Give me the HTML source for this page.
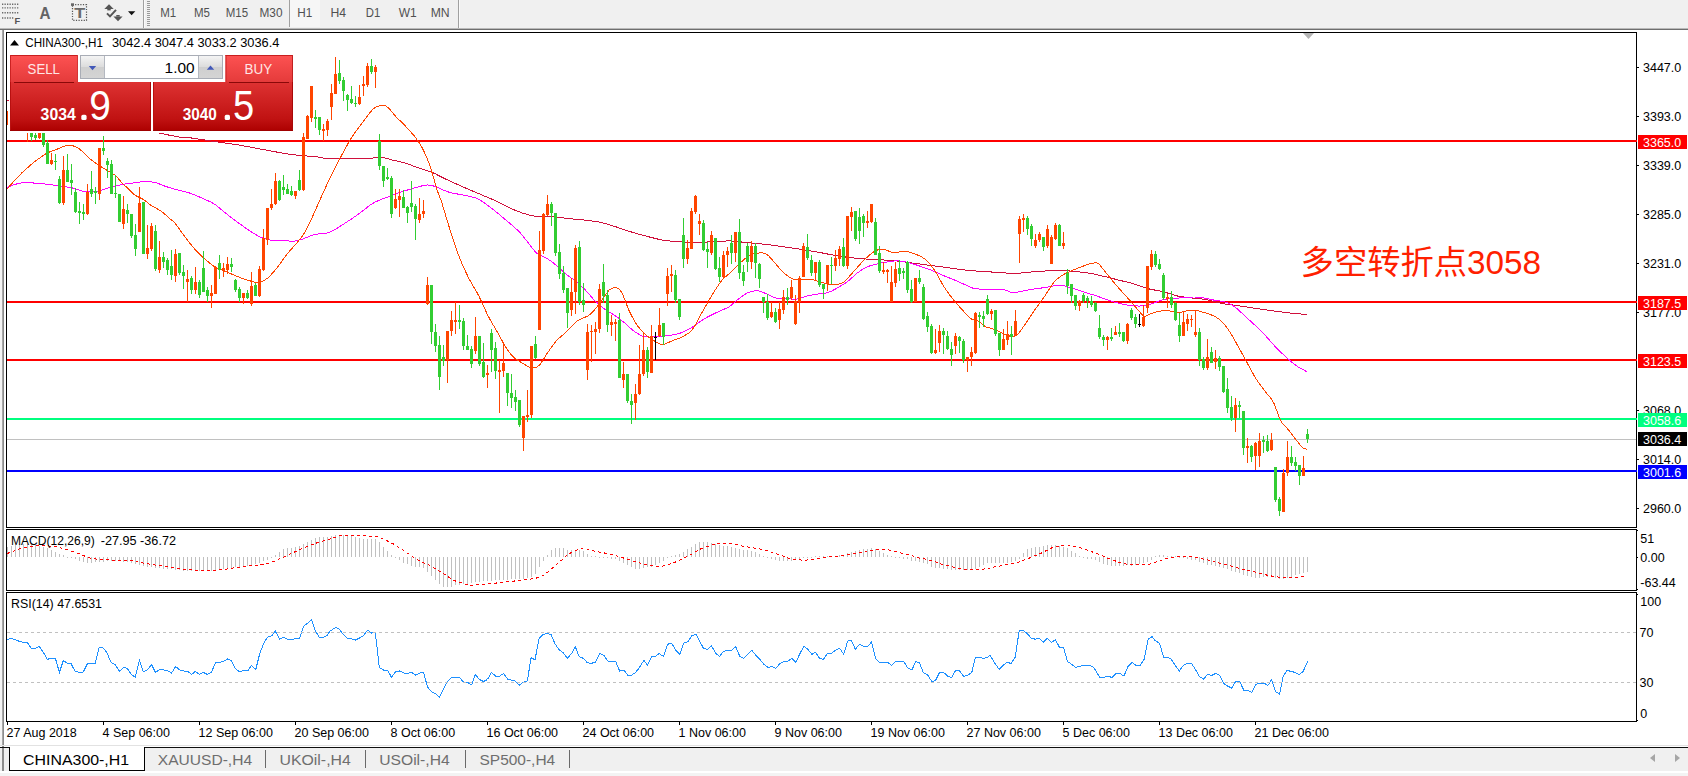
<!DOCTYPE html>
<html lang="zh"><head><meta charset="utf-8"><title>CHINA300-,H1</title>
<style>
html,body{margin:0;padding:0;background:#fff;overflow:hidden}
body{width:1688px;height:776px;font-family:"Liberation Sans", sans-serif}
svg{display:block;font-family:"Liberation Sans", sans-serif}
text{white-space:pre}
</style></head><body>
<svg width="1688" height="776" viewBox="0 0 1688 776">
<rect x="0" y="0" width="1688" height="776" fill="#ffffff" />
<rect x="0" y="0" width="1688" height="28" fill="#f0f0f0" />
<rect x="0" y="28" width="1688" height="1" fill="#b9b9b9" />
<rect x="0" y="29" width="1688" height="1" fill="#6e6e6e" />
<rect x="0" y="30" width="2" height="716" fill="#f4f4f4" />
<rect x="2" y="30" width="2" height="716" fill="#8c8c8c" />
<rect x="2" y="30" width="1" height="716" fill="#a8a8a8" />
<rect x="6" y="32" width="1631" height="1" fill="#000" />
<rect x="6" y="32" width="1" height="496" fill="#000" />
<rect x="6" y="527" width="1631" height="1" fill="#000" />
<rect x="6" y="529" width="1631" height="1" fill="#000" />
<rect x="6" y="529" width="1" height="62" fill="#000" />
<rect x="6" y="590" width="1631" height="1" fill="#000" />
<rect x="6" y="592" width="1631" height="1" fill="#000" />
<rect x="6" y="592" width="1" height="130" fill="#000" />
<rect x="6" y="721" width="1631" height="1" fill="#000" />
<rect x="1636" y="32" width="1" height="496" fill="#000" />
<rect x="1636" y="529" width="1" height="62" fill="#000" />
<rect x="1636" y="592" width="1" height="130" fill="#000" />
<rect x="1637" y="67" width="2" height="1" fill="#000" />
<text x="1643" y="72" font-size="12.5" fill="#000" >3447.0</text>
<rect x="1637" y="116" width="2" height="1" fill="#000" />
<text x="1643" y="121" font-size="12.5" fill="#000" >3393.0</text>
<rect x="1637" y="165" width="2" height="1" fill="#000" />
<text x="1643" y="170" font-size="12.5" fill="#000" >3339.0</text>
<rect x="1637" y="214" width="2" height="1" fill="#000" />
<text x="1643" y="219" font-size="12.5" fill="#000" >3285.0</text>
<rect x="1637" y="263" width="2" height="1" fill="#000" />
<text x="1643" y="268" font-size="12.5" fill="#000" >3231.0</text>
<rect x="1637" y="312" width="2" height="1" fill="#000" />
<text x="1643" y="317" font-size="12.5" fill="#000" >3177.0</text>
<rect x="1637" y="410" width="2" height="1" fill="#000" />
<text x="1643" y="415" font-size="12.5" fill="#000" >3068.0</text>
<rect x="1637" y="459" width="2" height="1" fill="#000" />
<text x="1643" y="464" font-size="12.5" fill="#000" >3014.0</text>
<rect x="1637" y="508" width="2" height="1" fill="#000" />
<text x="1643" y="513" font-size="12.5" fill="#000" >2960.0</text>
<rect x="7" y="140" width="1630" height="2" fill="#ff0000" />
<rect x="1638" y="135" width="49" height="14" fill="#ff0000" />
<text x="1643" y="147" font-size="12.5" fill="#fff" >3365.0</text>
<rect x="7" y="301" width="1630" height="2" fill="#ff0000" />
<rect x="1638" y="296" width="49" height="14" fill="#ff0000" />
<text x="1643" y="308" font-size="12.5" fill="#fff" >3187.5</text>
<rect x="7" y="359" width="1630" height="2" fill="#ff0000" />
<rect x="1638" y="354" width="49" height="14" fill="#ff0000" />
<text x="1643" y="366" font-size="12.5" fill="#fff" >3123.5</text>
<rect x="7" y="418" width="1630" height="2" fill="#00ff7f" />
<rect x="1638" y="413" width="49" height="14" fill="#00ff7f" />
<text x="1643" y="425" font-size="12.5" fill="#fff" >3058.6</text>
<rect x="7" y="439" width="1629" height="1" fill="#c0c0c0" />
<rect x="1638" y="432" width="49" height="14" fill="#000" />
<text x="1643" y="444" font-size="12.5" fill="#fff" >3036.4</text>
<rect x="7" y="470" width="1630" height="2" fill="#0000ff" />
<rect x="1638" y="465" width="49" height="14" fill="#0000ff" />
<text x="1643" y="477" font-size="12.5" fill="#fff" >3001.6</text>
<path d="M7.0 100.0 C33.3 105.7 134.6 128.0 165.0 134.3 C195.4 140.6 181.3 136.5 189.5 137.7 C197.7 138.9 205.8 140.2 214.0 141.4 C222.2 142.6 230.3 143.7 238.5 145.0 C246.7 146.3 254.8 148.0 263.0 149.5 C271.1 151.0 280.9 152.9 287.4 153.9 C293.9 154.9 297.1 155.1 302.0 155.6 C306.9 156.1 313.1 156.4 316.8 156.8 C320.5 157.2 319.9 157.9 324.4 158.2 C328.9 158.5 337.5 158.4 344.0 158.5 C350.5 158.6 357.1 158.6 363.6 158.5 C370.1 158.4 378.2 157.4 383.1 157.7 C388.0 158.0 389.3 159.3 393.0 160.2 C396.7 161.1 401.1 161.9 405.2 163.1 C409.3 164.3 412.9 165.9 417.4 167.5 C421.9 169.1 427.2 170.4 432.1 172.4 C437.0 174.4 441.6 177.2 446.5 179.5 C451.4 181.8 455.9 183.8 461.2 186.1 C466.5 188.4 472.7 191.1 478.4 193.5 C484.1 195.9 490.2 198.4 495.5 200.8 C500.8 203.2 505.7 206.2 510.2 208.2 C514.7 210.2 518.3 211.7 522.4 213.0 C526.5 214.3 530.6 215.6 534.7 216.2 C538.8 216.8 542.8 216.5 546.9 216.7 C551.0 216.9 556.2 216.9 559.2 217.2 C562.2 217.4 562.0 217.8 565.0 218.2 C568.0 218.6 573.1 219.0 577.2 219.4 C581.3 219.8 585.4 220.1 589.5 220.6 C593.6 221.1 597.6 221.7 601.7 222.6 C605.8 223.5 609.9 224.9 614.0 226.2 C618.1 227.5 622.1 229.1 626.2 230.4 C630.3 231.7 634.4 232.9 638.5 234.1 C642.6 235.2 646.6 236.3 650.7 237.3 C654.8 238.3 658.9 239.5 663.0 240.2 C667.1 240.9 671.1 241.1 675.2 241.4 C679.3 241.7 681.3 242.1 687.4 242.2 C693.5 242.3 704.8 242.1 711.9 241.9 C719.0 241.7 724.5 240.8 730.0 240.9 C735.5 241.0 739.8 241.9 744.7 242.4 C749.6 242.9 753.7 243.1 759.4 243.7 C765.1 244.3 772.5 245.2 779.0 246.1 C785.5 247.0 792.1 248.0 798.6 249.0 C805.1 250.0 811.6 251.0 818.1 252.2 C824.6 253.3 831.2 254.9 837.7 255.9 C844.2 256.9 850.8 257.8 857.3 258.4 C863.8 259.0 870.3 259.2 876.9 259.6 C883.5 260.0 889.9 260.3 897.0 261.0 C904.1 261.7 911.7 263.0 919.5 264.0 C927.3 265.0 935.8 266.1 944.0 267.2 C952.2 268.3 960.3 269.6 968.5 270.4 C976.7 271.2 985.2 271.6 993.0 272.1 C1000.8 272.6 1008.9 273.4 1015.0 273.4 C1021.1 273.4 1024.4 272.5 1029.7 272.1 C1035.0 271.7 1041.8 271.2 1046.8 270.9 C1051.8 270.6 1055.3 270.2 1060.0 270.3 C1064.7 270.4 1069.8 271.0 1074.7 271.5 C1079.6 272.0 1084.5 272.4 1089.4 273.2 C1094.3 274.0 1099.1 275.2 1104.0 276.4 C1108.9 277.5 1113.9 278.9 1118.8 280.1 C1123.7 281.3 1128.6 282.4 1133.5 283.8 C1138.4 285.2 1143.2 287.4 1148.1 288.7 C1153.0 290.0 1157.9 290.4 1162.8 291.6 C1167.7 292.8 1172.6 294.9 1177.5 296.0 C1182.4 297.1 1187.3 297.4 1192.2 298.0 C1197.1 298.6 1202.0 298.8 1206.9 299.7 C1211.8 300.6 1216.1 302.3 1221.6 303.4 C1227.1 304.4 1231.9 304.8 1240.0 306.0 C1248.1 307.2 1261.7 309.3 1270.0 310.5 C1278.3 311.7 1283.8 312.3 1290.0 313.0 C1296.2 313.7 1304.2 314.2 1307.0 314.5" fill="none" stroke="#d0103c" stroke-width="1" shape-rendering="crispEdges"/>
<path d="M7.3 187.4 C8.5 186.9 11.8 185.3 14.7 184.5 C17.6 183.7 20.8 182.7 24.5 182.5 C28.2 182.3 32.6 183.0 36.7 183.3 C40.8 183.6 44.9 184.0 49.0 184.5 C53.1 185.0 57.1 185.6 61.2 186.2 C65.3 186.8 69.4 187.3 73.5 188.2 C77.6 189.1 81.6 191.3 85.7 191.8 C89.8 192.3 93.9 191.8 98.0 191.1 C102.1 190.4 106.1 188.5 110.2 187.4 C114.3 186.3 118.3 185.3 122.4 184.5 C126.5 183.7 130.6 183.3 134.7 182.8 C138.8 182.3 143.3 181.3 147.0 181.3 C150.7 181.3 153.7 182.2 156.7 183.0 C159.7 183.8 161.6 185.0 165.0 186.2 C168.4 187.3 173.1 188.8 177.2 189.9 C181.3 191.0 185.4 191.7 189.5 193.0 C193.6 194.3 197.6 196.2 201.7 198.0 C205.8 199.8 209.9 201.2 214.0 203.8 C218.1 206.4 222.1 210.4 226.2 213.6 C230.3 216.8 234.4 219.9 238.5 222.9 C242.6 225.9 247.0 229.1 250.7 231.5 C254.4 233.9 257.2 235.7 260.5 237.1 C263.8 238.5 266.6 239.6 270.3 240.1 C274.0 240.6 278.8 239.9 282.5 240.1 C286.2 240.3 289.0 241.5 292.3 241.3 C295.6 241.2 298.4 240.3 302.1 239.2 C305.8 238.1 310.1 235.6 314.6 234.5 C319.1 233.4 324.4 234.2 329.3 232.4 C334.2 230.6 339.1 226.9 344.0 223.8 C348.9 220.7 353.8 217.5 358.7 214.0 C363.6 210.5 368.5 205.8 373.4 203.0 C378.3 200.2 383.1 198.8 388.0 196.9 C392.9 195.0 397.8 193.1 402.7 191.5 C407.6 189.9 413.3 188.2 417.4 187.1 C421.5 186.0 424.3 185.1 427.2 185.0 C430.1 184.9 431.0 185.1 434.6 186.3 C438.2 187.5 444.1 190.7 449.0 192.2 C453.9 193.7 458.8 194.0 463.7 195.2 C468.6 196.3 473.5 196.7 478.4 199.1 C483.3 201.5 488.1 205.7 493.0 209.4 C497.9 213.2 503.2 217.7 507.7 221.6 C512.2 225.5 516.3 228.7 520.0 232.6 C523.7 236.5 526.9 241.4 529.8 244.9 C532.6 248.4 534.2 251.2 537.1 253.5 C540.0 255.8 543.6 256.4 546.9 258.4 C550.2 260.4 553.7 263.2 556.7 265.7 C559.7 268.2 562.0 270.8 565.0 273.3 C568.0 275.8 571.5 278.0 574.8 280.6 C578.1 283.2 581.3 285.9 584.6 289.2 C587.9 292.5 591.1 296.9 594.4 300.2 C597.7 303.5 600.9 306.4 604.2 308.8 C607.5 311.2 610.7 312.7 614.0 314.9 C617.3 317.1 620.5 319.5 623.8 322.2 C627.1 324.9 630.3 328.4 633.6 330.8 C636.9 333.2 640.1 335.4 643.4 336.4 C646.6 337.4 649.0 337.0 653.1 336.9 C657.2 336.8 663.3 336.3 667.8 335.7 C672.3 335.1 676.0 334.6 680.1 333.2 C684.2 331.8 688.2 329.5 692.3 327.1 C696.4 324.7 700.5 321.1 704.6 318.6 C708.7 316.2 712.7 314.4 716.8 312.4 C720.9 310.4 725.7 308.9 729.1 306.8 C732.5 304.7 734.3 302.3 737.3 300.0 C740.3 297.7 743.8 294.7 747.1 293.1 C750.4 291.6 753.6 290.6 756.9 290.7 C760.2 290.8 763.4 292.6 766.7 293.9 C770.0 295.2 773.2 297.6 776.5 298.3 C779.8 299.0 783.0 298.2 786.3 298.3 C789.6 298.4 792.8 299.5 796.1 299.2 C799.4 298.9 802.6 297.1 805.9 296.3 C809.2 295.5 812.0 294.9 815.7 294.3 C819.4 293.7 824.2 293.7 827.9 292.6 C831.6 291.5 834.4 289.5 837.7 287.7 C841.0 285.9 844.2 284.1 847.5 281.6 C850.8 279.2 854.0 275.4 857.3 273.0 C860.6 270.6 863.8 268.4 867.1 266.9 C870.4 265.4 873.6 264.8 876.9 264.0 C880.2 263.2 883.4 262.5 886.7 262.0 C890.1 261.5 893.6 260.8 897.0 260.8 C900.4 260.9 903.5 261.4 907.2 262.3 C911.0 263.2 915.4 264.6 919.5 266.0 C923.6 267.4 927.6 268.8 931.7 270.4 C935.8 272.0 939.9 274.1 944.0 275.8 C948.1 277.5 952.1 278.9 956.2 280.7 C960.3 282.4 965.2 284.9 968.5 286.3 C971.8 287.7 971.7 288.3 975.8 288.8 C979.9 289.3 988.5 289.2 993.0 289.3 C997.5 289.4 999.5 288.8 1002.7 289.3 C1006.0 289.8 1009.2 292.2 1012.5 292.5 C1015.8 292.8 1019.0 291.7 1022.3 291.2 C1025.6 290.7 1028.4 289.9 1032.1 289.3 C1035.8 288.7 1039.8 288.3 1044.4 287.6 C1049.1 286.9 1055.4 285.2 1060.0 285.3 C1064.6 285.4 1068.1 287.0 1072.2 288.2 C1076.3 289.4 1080.4 291.0 1084.5 292.3 C1088.6 293.6 1092.6 294.6 1096.7 296.0 C1100.8 297.4 1104.9 299.1 1109.0 300.4 C1113.1 301.7 1117.1 302.9 1121.2 303.8 C1125.3 304.7 1129.8 305.5 1133.5 305.8 C1137.2 306.1 1140.0 306.2 1143.3 305.8 C1146.5 305.4 1149.8 304.4 1153.0 303.4 C1156.2 302.4 1159.1 300.5 1162.8 299.7 C1166.5 298.9 1171.0 298.9 1175.1 298.5 C1179.2 298.1 1183.2 297.4 1187.3 297.2 C1191.4 297.0 1195.5 296.8 1199.6 297.2 C1203.7 297.6 1206.7 298.6 1211.8 299.7 C1216.9 300.8 1224.5 301.1 1230.0 303.8 C1235.5 306.5 1239.2 310.8 1245.0 316.0 C1250.8 321.2 1259.7 329.8 1264.8 335.0 C1269.9 340.2 1271.9 343.2 1275.8 347.2 C1279.7 351.2 1284.3 355.5 1288.0 358.8 C1291.7 362.1 1294.6 364.7 1297.8 366.8 C1301.0 368.9 1305.5 370.9 1307.0 371.7" fill="none" stroke="#ff00ff" stroke-width="1" shape-rendering="crispEdges"/>
<path d="M7.0 189.0 C9.9 185.9 18.3 176.0 24.5 170.3 C30.7 164.6 38.7 158.4 44.0 154.9 C49.3 151.4 52.2 151.1 56.3 149.5 C60.4 147.9 64.9 145.5 68.6 145.3 C72.3 145.1 74.7 146.0 78.4 148.3 C82.1 150.6 86.5 156.1 90.6 159.3 C94.7 162.6 98.7 165.2 102.8 167.8 C106.9 170.5 111.7 172.6 115.0 175.2 C118.3 177.8 120.5 181.5 122.5 183.6 C124.5 185.7 125.2 185.9 127.3 187.8 C129.3 189.7 132.2 193.1 134.8 195.0 C137.4 196.9 140.2 197.5 143.0 199.3 C145.8 201.1 148.7 203.8 151.8 205.8 C154.9 207.8 158.6 209.3 161.6 211.5 C164.6 213.7 167.8 216.9 170.0 218.8 C172.2 220.7 172.4 220.0 174.8 222.9 C177.2 225.8 181.3 232.1 184.6 236.4 C187.9 240.7 191.1 245.0 194.4 248.7 C197.7 252.4 200.9 255.5 204.2 258.4 C207.5 261.3 210.7 264.2 214.0 266.3 C217.3 268.4 220.5 269.3 223.8 270.7 C227.1 272.1 230.3 273.5 233.6 274.9 C236.9 276.2 240.2 277.7 243.4 278.8 C246.7 279.9 250.4 281.1 253.1 281.7 C255.8 282.3 256.9 283.0 259.3 282.4 C261.8 281.8 264.8 280.6 267.8 278.0 C270.9 275.4 274.3 271.1 277.6 267.0 C280.9 262.9 284.1 257.7 287.4 253.6 C290.7 249.5 294.3 246.0 297.2 242.5 C300.1 239.0 302.2 236.8 304.6 232.7 C307.1 228.6 309.0 224.1 311.9 218.0 C314.8 211.9 318.8 202.3 321.7 196.0 C324.6 189.7 326.1 186.0 329.0 180.0 C331.9 174.0 335.3 167.2 339.0 160.2 C342.7 153.2 347.2 144.6 351.3 138.1 C355.4 131.6 359.9 125.9 363.6 121.0 C367.3 116.1 370.8 111.3 373.4 108.8 C376.0 106.3 377.7 106.4 379.5 105.8 C381.3 105.2 382.8 104.8 384.4 105.3 C386.0 105.8 387.5 107.0 389.3 108.8 C391.1 110.6 392.8 113.2 395.4 116.1 C398.0 118.9 401.9 122.4 405.2 125.9 C408.5 129.4 412.1 133.2 415.0 136.9 C417.9 140.6 419.9 143.3 422.3 148.0 C424.8 152.7 427.2 158.1 429.7 165.0 C432.1 171.9 435.0 183.4 437.0 189.6 C439.0 195.8 439.6 195.8 441.6 202.0 C443.6 208.2 446.1 217.5 449.0 226.5 C451.9 235.5 455.5 247.3 458.8 255.9 C462.1 264.5 465.3 271.4 468.6 277.9 C471.9 284.4 475.1 288.8 478.4 295.1 C481.6 301.4 484.9 309.6 488.1 315.9 C491.4 322.2 495.0 327.9 497.9 333.0 C500.8 338.1 502.9 342.6 505.3 346.5 C507.8 350.4 509.8 353.5 512.6 356.3 C515.5 359.1 519.1 361.2 522.4 363.2 C525.7 365.1 529.3 367.7 532.2 368.0 C535.1 368.3 537.2 367.3 539.6 364.9 C542.0 362.5 544.0 357.9 546.9 353.8 C549.8 349.7 553.7 343.8 556.7 340.4 C559.7 337.0 561.6 336.4 565.0 333.2 C568.4 330.0 573.1 324.1 577.2 321.0 C581.3 317.9 585.8 317.8 589.5 314.9 C593.2 312.0 596.2 307.8 599.3 303.9 C602.3 300.0 605.8 294.2 607.8 291.6 C609.8 289.1 610.3 289.2 611.5 288.6 C612.7 288.0 614.0 287.7 615.2 287.7 C616.4 287.7 617.6 287.7 618.8 288.8 C620.0 289.9 620.6 290.2 622.5 294.1 C624.4 298.0 627.2 306.9 629.9 312.4 C632.6 317.9 635.4 323.0 638.5 327.1 C641.6 331.2 645.0 334.2 648.3 336.9 C651.5 339.5 655.6 341.7 658.0 343.0 C660.4 344.3 660.4 345.1 662.9 344.7 C665.4 344.3 669.4 341.9 672.7 340.6 C676.0 339.3 679.2 338.7 682.5 336.9 C685.8 335.1 689.0 333.7 692.3 329.6 C695.6 325.5 698.8 318.1 702.1 312.4 C705.4 306.7 708.6 300.6 711.9 295.3 C715.2 290.0 718.7 284.3 721.7 280.6 C724.7 276.9 727.0 275.9 730.0 273.0 C733.0 270.1 736.5 266.2 739.8 263.3 C743.1 260.4 746.3 257.1 749.6 255.4 C752.9 253.7 756.5 253.2 759.4 253.0 C762.2 252.8 764.2 252.7 766.7 254.2 C769.2 255.7 771.2 258.9 774.1 262.0 C777.0 265.1 780.6 270.1 783.9 273.0 C787.2 275.9 790.4 278.2 793.7 279.2 C797.0 280.2 800.2 279.1 803.5 279.2 C806.8 279.3 810.0 279.3 813.3 279.9 C816.5 280.5 819.8 282.0 823.0 282.8 C826.2 283.6 829.5 284.6 832.8 284.6 C836.1 284.6 839.3 284.7 842.6 282.8 C845.9 280.9 849.1 276.5 852.4 273.0 C855.7 269.5 858.9 265.3 862.2 262.0 C865.5 258.7 869.1 255.1 872.0 253.0 C874.9 250.9 877.1 249.8 879.4 249.3 C881.6 248.8 883.5 249.3 885.5 249.8 C887.5 250.3 889.7 251.8 891.6 252.2 C893.5 252.6 894.8 252.6 897.0 252.4 C899.2 252.2 901.9 251.1 904.8 251.3 C907.7 251.5 911.3 252.6 914.6 253.8 C917.9 255.0 921.1 256.1 924.4 258.7 C927.7 261.3 930.9 265.0 934.2 269.7 C937.5 274.4 940.7 281.7 944.0 286.8 C947.3 291.9 950.5 296.2 953.8 300.3 C957.1 304.4 960.8 308.2 963.6 311.3 C966.5 314.4 968.5 317.1 970.9 318.7 C973.3 320.3 975.8 319.8 978.3 321.1 C980.8 322.4 982.8 325.3 985.6 326.7 C988.5 328.1 992.1 328.4 995.4 329.7 C998.7 331.0 1002.4 333.5 1005.2 334.6 C1008.1 335.7 1010.5 336.5 1012.5 336.5 C1014.5 336.5 1015.4 336.6 1017.4 334.6 C1019.4 332.7 1021.9 328.9 1024.8 324.8 C1027.7 320.7 1031.3 314.8 1034.6 310.1 C1037.9 305.4 1041.1 301.3 1044.4 296.6 C1047.7 291.9 1051.3 285.4 1054.2 281.9 C1057.1 278.4 1059.4 277.2 1062.0 275.5 C1064.6 273.8 1066.5 273.0 1069.8 271.5 C1073.1 270.0 1078.3 268.0 1082.0 266.6 C1085.7 265.2 1089.1 263.9 1091.8 263.4 C1094.5 262.9 1096.0 262.2 1098.0 263.4 C1100.0 264.5 1101.3 267.1 1104.0 270.3 C1106.7 273.5 1110.6 278.6 1113.9 282.5 C1117.2 286.4 1120.4 289.9 1123.7 293.6 C1127.0 297.3 1130.7 301.4 1133.5 304.6 C1136.3 307.9 1139.0 311.2 1140.8 313.1 C1142.6 315.1 1142.9 316.2 1144.5 316.3 C1146.1 316.4 1148.3 314.7 1150.6 313.9 C1152.8 313.1 1155.2 311.9 1158.0 311.4 C1160.8 310.9 1164.5 310.5 1167.7 310.7 C1171.0 310.9 1174.6 312.6 1177.5 312.7 C1180.4 312.8 1182.0 311.6 1184.9 311.2 C1187.8 310.8 1191.9 310.1 1194.7 310.2 C1197.5 310.3 1199.2 311.1 1202.0 311.9 C1204.8 312.7 1208.9 313.9 1211.8 315.1 C1214.7 316.3 1217.0 317.6 1219.2 319.3 C1221.5 321.0 1223.2 322.8 1225.3 325.4 C1227.4 328.0 1228.6 329.7 1231.7 335.0 C1234.8 340.3 1239.9 349.6 1244.0 357.0 C1248.1 364.4 1252.5 373.2 1256.2 379.1 C1259.9 385.0 1263.1 388.6 1266.0 392.5 C1268.9 396.4 1271.0 397.6 1273.4 402.3 C1275.9 407.0 1278.3 416.2 1280.7 420.7 C1283.1 425.2 1285.5 426.2 1288.0 429.3 C1290.5 432.4 1293.0 436.1 1295.4 439.1 C1297.9 442.2 1300.8 445.9 1302.7 447.6 C1304.6 449.3 1306.3 449.0 1307.0 449.3" fill="none" stroke="#ff4500" stroke-width="1" shape-rendering="crispEdges"/>
<g id="chart" shape-rendering="crispEdges">
<rect x="27" y="110" width="1" height="32" fill="#ff4500" />
<rect x="26" y="112" width="3" height="19" fill="#ff4500" />
<rect x="31" y="131" width="1" height="10" fill="#32cd32" />
<rect x="30" y="131" width="3" height="6" fill="#32cd32" />
<rect x="35" y="131" width="1" height="9" fill="#32cd32" />
<rect x="34" y="135" width="3" height="3" fill="#32cd32" />
<rect x="39" y="131" width="1" height="8" fill="#ff4500" />
<rect x="38" y="131" width="3" height="7" fill="#ff4500" />
<rect x="43" y="131" width="1" height="16" fill="#32cd32" />
<rect x="42" y="131" width="3" height="14" fill="#32cd32" />
<rect x="47" y="140" width="1" height="24" fill="#32cd32" />
<rect x="46" y="143" width="3" height="21" fill="#32cd32" />
<rect x="51" y="153" width="1" height="12" fill="#ff4500" />
<rect x="50" y="160" width="3" height="4" fill="#ff4500" />
<rect x="55" y="154" width="1" height="16" fill="#32cd32" />
<rect x="54" y="161" width="3" height="1" fill="#32cd32" />
<rect x="59" y="176" width="1" height="28" fill="#32cd32" />
<rect x="58" y="179" width="3" height="24" fill="#32cd32" />
<rect x="63" y="156" width="1" height="49" fill="#ff4500" />
<rect x="62" y="170" width="3" height="33" fill="#ff4500" />
<rect x="67" y="154" width="1" height="28" fill="#32cd32" />
<rect x="66" y="170" width="3" height="12" fill="#32cd32" />
<rect x="71" y="164" width="1" height="31" fill="#32cd32" />
<rect x="70" y="180" width="3" height="3" fill="#32cd32" />
<rect x="75" y="188" width="1" height="25" fill="#32cd32" />
<rect x="74" y="192" width="3" height="20" fill="#32cd32" />
<rect x="79" y="202" width="1" height="22" fill="#32cd32" />
<rect x="78" y="211" width="3" height="2" fill="#32cd32" />
<rect x="83" y="204" width="1" height="16" fill="#32cd32" />
<rect x="82" y="212" width="3" height="2" fill="#32cd32" />
<rect x="87" y="184" width="1" height="31" fill="#ff4500" />
<rect x="86" y="192" width="3" height="22" fill="#ff4500" />
<rect x="91" y="171" width="1" height="26" fill="#32cd32" />
<rect x="90" y="189" width="3" height="5" fill="#32cd32" />
<rect x="95" y="187" width="1" height="17" fill="#32cd32" />
<rect x="94" y="191" width="3" height="2" fill="#32cd32" />
<rect x="99" y="148" width="1" height="52" fill="#ff4500" />
<rect x="98" y="148" width="3" height="46" fill="#ff4500" />
<rect x="103" y="136" width="1" height="19" fill="#32cd32" />
<rect x="102" y="148" width="3" height="3" fill="#32cd32" />
<rect x="107" y="158" width="1" height="20" fill="#32cd32" />
<rect x="106" y="161" width="3" height="4" fill="#32cd32" />
<rect x="111" y="160" width="1" height="34" fill="#32cd32" />
<rect x="110" y="164" width="3" height="30" fill="#32cd32" />
<rect x="115" y="175" width="1" height="23" fill="#32cd32" />
<rect x="114" y="193" width="3" height="1" fill="#32cd32" />
<rect x="119" y="194" width="1" height="28" fill="#32cd32" />
<rect x="118" y="194" width="3" height="28" fill="#32cd32" />
<rect x="123" y="196" width="1" height="33" fill="#ff4500" />
<rect x="122" y="209" width="3" height="15" fill="#ff4500" />
<rect x="127" y="204" width="1" height="19" fill="#32cd32" />
<rect x="126" y="210" width="3" height="4" fill="#32cd32" />
<rect x="131" y="214" width="1" height="24" fill="#32cd32" />
<rect x="130" y="214" width="3" height="22" fill="#32cd32" />
<rect x="135" y="224" width="1" height="32" fill="#32cd32" />
<rect x="134" y="235" width="3" height="14" fill="#32cd32" />
<rect x="139" y="187" width="1" height="45" fill="#ff4500" />
<rect x="138" y="203" width="3" height="29" fill="#ff4500" />
<rect x="143" y="202" width="1" height="52" fill="#32cd32" />
<rect x="142" y="202" width="3" height="52" fill="#32cd32" />
<rect x="147" y="225" width="1" height="34" fill="#ff4500" />
<rect x="146" y="248" width="3" height="6" fill="#ff4500" />
<rect x="151" y="223" width="1" height="28" fill="#ff4500" />
<rect x="150" y="226" width="3" height="23" fill="#ff4500" />
<rect x="155" y="225" width="1" height="46" fill="#32cd32" />
<rect x="154" y="231" width="3" height="38" fill="#32cd32" />
<rect x="159" y="241" width="1" height="32" fill="#ff4500" />
<rect x="158" y="257" width="3" height="13" fill="#ff4500" />
<rect x="163" y="252" width="1" height="16" fill="#32cd32" />
<rect x="162" y="257" width="3" height="5" fill="#32cd32" />
<rect x="167" y="258" width="1" height="17" fill="#32cd32" />
<rect x="166" y="260" width="3" height="10" fill="#32cd32" />
<rect x="171" y="250" width="1" height="30" fill="#32cd32" />
<rect x="170" y="266" width="3" height="9" fill="#32cd32" />
<rect x="175" y="249" width="1" height="33" fill="#ff4500" />
<rect x="174" y="254" width="3" height="22" fill="#ff4500" />
<rect x="179" y="253" width="1" height="22" fill="#32cd32" />
<rect x="178" y="253" width="3" height="20" fill="#32cd32" />
<rect x="183" y="265" width="1" height="24" fill="#32cd32" />
<rect x="182" y="272" width="3" height="4" fill="#32cd32" />
<rect x="187" y="270" width="1" height="32" fill="#ff4500" />
<rect x="186" y="279" width="3" height="3" fill="#ff4500" />
<rect x="191" y="276" width="1" height="18" fill="#32cd32" />
<rect x="190" y="278" width="3" height="12" fill="#32cd32" />
<rect x="195" y="267" width="1" height="27" fill="#ff4500" />
<rect x="194" y="282" width="3" height="8" fill="#ff4500" />
<rect x="199" y="280" width="1" height="18" fill="#32cd32" />
<rect x="198" y="282" width="3" height="13" fill="#32cd32" />
<rect x="203" y="251" width="1" height="41" fill="#32cd32" />
<rect x="202" y="268" width="3" height="24" fill="#32cd32" />
<rect x="207" y="287" width="1" height="15" fill="#32cd32" />
<rect x="206" y="290" width="3" height="6" fill="#32cd32" />
<rect x="211" y="285" width="1" height="23" fill="#ff4500" />
<rect x="210" y="293" width="3" height="3" fill="#ff4500" />
<rect x="215" y="266" width="1" height="28" fill="#ff4500" />
<rect x="214" y="267" width="3" height="27" fill="#ff4500" />
<rect x="219" y="255" width="1" height="24" fill="#32cd32" />
<rect x="218" y="263" width="3" height="7" fill="#32cd32" />
<rect x="223" y="263" width="1" height="14" fill="#ff4500" />
<rect x="222" y="268" width="3" height="3" fill="#ff4500" />
<rect x="227" y="257" width="1" height="17" fill="#ff4500" />
<rect x="226" y="264" width="3" height="6" fill="#ff4500" />
<rect x="231" y="258" width="1" height="14" fill="#32cd32" />
<rect x="230" y="264" width="3" height="3" fill="#32cd32" />
<rect x="235" y="279" width="1" height="13" fill="#32cd32" />
<rect x="234" y="280" width="3" height="10" fill="#32cd32" />
<rect x="239" y="287" width="1" height="15" fill="#32cd32" />
<rect x="238" y="289" width="3" height="9" fill="#32cd32" />
<rect x="243" y="293" width="1" height="11" fill="#ff4500" />
<rect x="242" y="293" width="3" height="5" fill="#ff4500" />
<rect x="247" y="290" width="1" height="9" fill="#32cd32" />
<rect x="246" y="293" width="3" height="5" fill="#32cd32" />
<rect x="251" y="272" width="1" height="34" fill="#ff4500" />
<rect x="250" y="286" width="3" height="18" fill="#ff4500" />
<rect x="255" y="283" width="1" height="13" fill="#32cd32" />
<rect x="254" y="285" width="3" height="11" fill="#32cd32" />
<rect x="259" y="266" width="1" height="31" fill="#ff4500" />
<rect x="258" y="269" width="3" height="27" fill="#ff4500" />
<rect x="263" y="229" width="1" height="42" fill="#ff4500" />
<rect x="262" y="238" width="3" height="32" fill="#ff4500" />
<rect x="267" y="208" width="1" height="37" fill="#ff4500" />
<rect x="266" y="208" width="3" height="32" fill="#ff4500" />
<rect x="271" y="189" width="1" height="21" fill="#ff4500" />
<rect x="270" y="204" width="3" height="4" fill="#ff4500" />
<rect x="275" y="173" width="1" height="32" fill="#ff4500" />
<rect x="274" y="181" width="3" height="23" fill="#ff4500" />
<rect x="279" y="180" width="1" height="21" fill="#32cd32" />
<rect x="278" y="181" width="3" height="19" fill="#32cd32" />
<rect x="283" y="175" width="1" height="20" fill="#32cd32" />
<rect x="282" y="187" width="3" height="3" fill="#32cd32" />
<rect x="287" y="184" width="1" height="10" fill="#32cd32" />
<rect x="286" y="189" width="3" height="5" fill="#32cd32" />
<rect x="291" y="186" width="1" height="10" fill="#32cd32" />
<rect x="290" y="191" width="3" height="4" fill="#32cd32" />
<rect x="295" y="191" width="1" height="8" fill="#ff4500" />
<rect x="294" y="191" width="3" height="5" fill="#ff4500" />
<rect x="299" y="170" width="1" height="21" fill="#32cd32" />
<rect x="298" y="180" width="3" height="10" fill="#32cd32" />
<rect x="303" y="133" width="1" height="58" fill="#ff4500" />
<rect x="302" y="137" width="3" height="53" fill="#ff4500" />
<rect x="307" y="115" width="1" height="24" fill="#ff4500" />
<rect x="306" y="116" width="3" height="23" fill="#ff4500" />
<rect x="311" y="86" width="1" height="36" fill="#ff4500" />
<rect x="310" y="86" width="3" height="32" fill="#ff4500" />
<rect x="315" y="110" width="1" height="18" fill="#32cd32" />
<rect x="314" y="117" width="3" height="2" fill="#32cd32" />
<rect x="319" y="117" width="1" height="18" fill="#32cd32" />
<rect x="318" y="117" width="3" height="13" fill="#32cd32" />
<rect x="323" y="124" width="1" height="17" fill="#ff4500" />
<rect x="322" y="129" width="3" height="2" fill="#ff4500" />
<rect x="327" y="119" width="1" height="17" fill="#ff4500" />
<rect x="326" y="121" width="3" height="9" fill="#ff4500" />
<rect x="331" y="84" width="1" height="36" fill="#ff4500" />
<rect x="330" y="93" width="3" height="14" fill="#ff4500" />
<rect x="335" y="57" width="1" height="37" fill="#ff4500" />
<rect x="334" y="74" width="3" height="20" fill="#ff4500" />
<rect x="339" y="60" width="1" height="24" fill="#32cd32" />
<rect x="338" y="73" width="3" height="8" fill="#32cd32" />
<rect x="343" y="77" width="1" height="24" fill="#32cd32" />
<rect x="342" y="80" width="3" height="11" fill="#32cd32" />
<rect x="347" y="94" width="1" height="17" fill="#32cd32" />
<rect x="346" y="95" width="3" height="5" fill="#32cd32" />
<rect x="351" y="86" width="1" height="18" fill="#32cd32" />
<rect x="350" y="99" width="3" height="4" fill="#32cd32" />
<rect x="355" y="96" width="1" height="11" fill="#32cd32" />
<rect x="354" y="103" width="3" height="1" fill="#32cd32" />
<rect x="359" y="85" width="1" height="20" fill="#ff4500" />
<rect x="358" y="97" width="3" height="7" fill="#ff4500" />
<rect x="363" y="76" width="1" height="20" fill="#ff4500" />
<rect x="362" y="84" width="3" height="2" fill="#ff4500" />
<rect x="367" y="63" width="1" height="24" fill="#ff4500" />
<rect x="366" y="66" width="3" height="19" fill="#ff4500" />
<rect x="371" y="59" width="1" height="15" fill="#32cd32" />
<rect x="370" y="66" width="3" height="6" fill="#32cd32" />
<rect x="375" y="65" width="1" height="23" fill="#ff4500" />
<rect x="374" y="67" width="3" height="5" fill="#ff4500" />
<rect x="379" y="134" width="1" height="36" fill="#32cd32" />
<rect x="378" y="141" width="3" height="25" fill="#32cd32" />
<rect x="383" y="166" width="1" height="21" fill="#32cd32" />
<rect x="382" y="166" width="3" height="15" fill="#32cd32" />
<rect x="387" y="168" width="1" height="12" fill="#32cd32" />
<rect x="386" y="177" width="3" height="2" fill="#32cd32" />
<rect x="391" y="176" width="1" height="42" fill="#32cd32" />
<rect x="390" y="178" width="3" height="36" fill="#32cd32" />
<rect x="395" y="189" width="1" height="20" fill="#ff4500" />
<rect x="394" y="199" width="3" height="9" fill="#ff4500" />
<rect x="399" y="189" width="1" height="28" fill="#ff4500" />
<rect x="398" y="196" width="3" height="4" fill="#ff4500" />
<rect x="403" y="190" width="1" height="18" fill="#32cd32" />
<rect x="402" y="197" width="3" height="11" fill="#32cd32" />
<rect x="407" y="206" width="1" height="17" fill="#32cd32" />
<rect x="406" y="207" width="3" height="6" fill="#32cd32" />
<rect x="411" y="181" width="1" height="31" fill="#32cd32" />
<rect x="410" y="203" width="3" height="4" fill="#32cd32" />
<rect x="415" y="204" width="1" height="36" fill="#32cd32" />
<rect x="414" y="206" width="3" height="13" fill="#32cd32" />
<rect x="419" y="198" width="1" height="25" fill="#ff4500" />
<rect x="418" y="214" width="3" height="6" fill="#ff4500" />
<rect x="423" y="200" width="1" height="18" fill="#ff4500" />
<rect x="422" y="211" width="3" height="3" fill="#ff4500" />
<rect x="427" y="277" width="1" height="28" fill="#ff4500" />
<rect x="426" y="285" width="3" height="19" fill="#ff4500" />
<rect x="431" y="285" width="1" height="59" fill="#32cd32" />
<rect x="430" y="285" width="3" height="47" fill="#32cd32" />
<rect x="435" y="324" width="1" height="28" fill="#32cd32" />
<rect x="434" y="332" width="3" height="14" fill="#32cd32" />
<rect x="439" y="336" width="1" height="54" fill="#32cd32" />
<rect x="438" y="345" width="3" height="32" fill="#32cd32" />
<rect x="443" y="345" width="1" height="21" fill="#32cd32" />
<rect x="442" y="357" width="3" height="4" fill="#32cd32" />
<rect x="447" y="331" width="1" height="52" fill="#ff4500" />
<rect x="446" y="331" width="3" height="29" fill="#ff4500" />
<rect x="451" y="311" width="1" height="25" fill="#ff4500" />
<rect x="450" y="320" width="3" height="11" fill="#ff4500" />
<rect x="455" y="302" width="1" height="32" fill="#ff4500" />
<rect x="454" y="320" width="3" height="2" fill="#ff4500" />
<rect x="459" y="305" width="1" height="24" fill="#32cd32" />
<rect x="458" y="320" width="3" height="2" fill="#32cd32" />
<rect x="463" y="318" width="1" height="32" fill="#32cd32" />
<rect x="462" y="321" width="3" height="25" fill="#32cd32" />
<rect x="467" y="335" width="1" height="15" fill="#32cd32" />
<rect x="466" y="346" width="3" height="4" fill="#32cd32" />
<rect x="471" y="346" width="1" height="22" fill="#32cd32" />
<rect x="470" y="349" width="3" height="15" fill="#32cd32" />
<rect x="475" y="317" width="1" height="37" fill="#ff4500" />
<rect x="474" y="336" width="3" height="15" fill="#ff4500" />
<rect x="479" y="336" width="1" height="30" fill="#32cd32" />
<rect x="478" y="336" width="3" height="28" fill="#32cd32" />
<rect x="483" y="343" width="1" height="35" fill="#32cd32" />
<rect x="482" y="362" width="3" height="15" fill="#32cd32" />
<rect x="487" y="365" width="1" height="23" fill="#ff4500" />
<rect x="486" y="373" width="3" height="2" fill="#ff4500" />
<rect x="491" y="329" width="1" height="43" fill="#32cd32" />
<rect x="490" y="333" width="3" height="17" fill="#32cd32" />
<rect x="495" y="342" width="1" height="37" fill="#32cd32" />
<rect x="494" y="348" width="3" height="23" fill="#32cd32" />
<rect x="499" y="360" width="1" height="53" fill="#ff4500" />
<rect x="498" y="370" width="3" height="2" fill="#ff4500" />
<rect x="503" y="344" width="1" height="33" fill="#ff4500" />
<rect x="502" y="363" width="3" height="8" fill="#ff4500" />
<rect x="507" y="373" width="1" height="33" fill="#32cd32" />
<rect x="506" y="373" width="3" height="20" fill="#32cd32" />
<rect x="511" y="374" width="1" height="34" fill="#32cd32" />
<rect x="510" y="393" width="3" height="5" fill="#32cd32" />
<rect x="515" y="390" width="1" height="21" fill="#32cd32" />
<rect x="514" y="397" width="3" height="5" fill="#32cd32" />
<rect x="519" y="400" width="1" height="27" fill="#32cd32" />
<rect x="518" y="400" width="3" height="25" fill="#32cd32" />
<rect x="523" y="416" width="1" height="35" fill="#ff4500" />
<rect x="522" y="416" width="3" height="22" fill="#ff4500" />
<rect x="527" y="390" width="1" height="32" fill="#ff4500" />
<rect x="526" y="415" width="3" height="2" fill="#ff4500" />
<rect x="531" y="346" width="1" height="72" fill="#ff4500" />
<rect x="530" y="346" width="3" height="69" fill="#ff4500" />
<rect x="535" y="336" width="1" height="23" fill="#32cd32" />
<rect x="534" y="344" width="3" height="14" fill="#32cd32" />
<rect x="539" y="231" width="1" height="99" fill="#ff4500" />
<rect x="538" y="250" width="3" height="80" fill="#ff4500" />
<rect x="543" y="213" width="1" height="41" fill="#ff4500" />
<rect x="542" y="214" width="3" height="37" fill="#ff4500" />
<rect x="547" y="195" width="1" height="21" fill="#ff4500" />
<rect x="546" y="204" width="3" height="11" fill="#ff4500" />
<rect x="551" y="202" width="1" height="24" fill="#32cd32" />
<rect x="550" y="204" width="3" height="9" fill="#32cd32" />
<rect x="555" y="213" width="1" height="43" fill="#32cd32" />
<rect x="554" y="213" width="3" height="40" fill="#32cd32" />
<rect x="559" y="244" width="1" height="35" fill="#32cd32" />
<rect x="558" y="252" width="3" height="22" fill="#32cd32" />
<rect x="563" y="266" width="1" height="27" fill="#32cd32" />
<rect x="562" y="273" width="3" height="17" fill="#32cd32" />
<rect x="567" y="288" width="1" height="40" fill="#32cd32" />
<rect x="566" y="288" width="3" height="25" fill="#32cd32" />
<rect x="571" y="278" width="1" height="38" fill="#ff4500" />
<rect x="570" y="292" width="3" height="18" fill="#ff4500" />
<rect x="575" y="245" width="1" height="69" fill="#ff4500" />
<rect x="574" y="248" width="3" height="44" fill="#ff4500" />
<rect x="579" y="241" width="1" height="64" fill="#32cd32" />
<rect x="578" y="247" width="3" height="55" fill="#32cd32" />
<rect x="583" y="283" width="1" height="29" fill="#32cd32" />
<rect x="582" y="300" width="3" height="5" fill="#32cd32" />
<rect x="587" y="324" width="1" height="56" fill="#ff4500" />
<rect x="586" y="332" width="3" height="38" fill="#ff4500" />
<rect x="591" y="325" width="1" height="37" fill="#ff4500" />
<rect x="590" y="331" width="3" height="1" fill="#ff4500" />
<rect x="595" y="322" width="1" height="32" fill="#ff4500" />
<rect x="594" y="329" width="3" height="3" fill="#ff4500" />
<rect x="599" y="284" width="1" height="49" fill="#ff4500" />
<rect x="598" y="289" width="3" height="40" fill="#ff4500" />
<rect x="603" y="264" width="1" height="39" fill="#32cd32" />
<rect x="602" y="282" width="3" height="14" fill="#32cd32" />
<rect x="607" y="290" width="1" height="42" fill="#32cd32" />
<rect x="606" y="295" width="3" height="30" fill="#32cd32" />
<rect x="611" y="315" width="1" height="21" fill="#ff4500" />
<rect x="610" y="322" width="3" height="3" fill="#ff4500" />
<rect x="615" y="319" width="1" height="22" fill="#ff4500" />
<rect x="614" y="322" width="3" height="2" fill="#ff4500" />
<rect x="619" y="313" width="1" height="65" fill="#32cd32" />
<rect x="618" y="320" width="3" height="58" fill="#32cd32" />
<rect x="623" y="362" width="1" height="26" fill="#ff4500" />
<rect x="622" y="374" width="3" height="6" fill="#ff4500" />
<rect x="627" y="374" width="1" height="29" fill="#32cd32" />
<rect x="626" y="374" width="3" height="27" fill="#32cd32" />
<rect x="631" y="394" width="1" height="30" fill="#32cd32" />
<rect x="630" y="401" width="3" height="4" fill="#32cd32" />
<rect x="635" y="384" width="1" height="36" fill="#ff4500" />
<rect x="634" y="394" width="3" height="9" fill="#ff4500" />
<rect x="639" y="345" width="1" height="50" fill="#ff4500" />
<rect x="638" y="374" width="3" height="20" fill="#ff4500" />
<rect x="643" y="333" width="1" height="43" fill="#ff4500" />
<rect x="642" y="350" width="3" height="24" fill="#ff4500" />
<rect x="647" y="347" width="1" height="31" fill="#32cd32" />
<rect x="646" y="350" width="3" height="22" fill="#32cd32" />
<rect x="651" y="325" width="1" height="48" fill="#ff4500" />
<rect x="650" y="336" width="3" height="37" fill="#ff4500" />
<rect x="655" y="332" width="1" height="28" fill="#000000" />
<rect x="654" y="337" width="3" height="1" fill="#000000" />
<rect x="659" y="308" width="1" height="29" fill="#ff4500" />
<rect x="658" y="325" width="3" height="11" fill="#ff4500" />
<rect x="663" y="323" width="1" height="22" fill="#32cd32" />
<rect x="662" y="323" width="3" height="14" fill="#32cd32" />
<rect x="667" y="268" width="1" height="38" fill="#ff4500" />
<rect x="666" y="276" width="3" height="18" fill="#ff4500" />
<rect x="671" y="265" width="1" height="27" fill="#ff4500" />
<rect x="670" y="274" width="3" height="2" fill="#ff4500" />
<rect x="675" y="270" width="1" height="33" fill="#32cd32" />
<rect x="674" y="275" width="3" height="25" fill="#32cd32" />
<rect x="679" y="299" width="1" height="21" fill="#32cd32" />
<rect x="678" y="299" width="3" height="18" fill="#32cd32" />
<rect x="683" y="218" width="1" height="50" fill="#32cd32" />
<rect x="682" y="235" width="3" height="24" fill="#32cd32" />
<rect x="687" y="240" width="1" height="24" fill="#ff4500" />
<rect x="686" y="248" width="3" height="11" fill="#ff4500" />
<rect x="691" y="208" width="1" height="41" fill="#ff4500" />
<rect x="690" y="211" width="3" height="38" fill="#ff4500" />
<rect x="695" y="195" width="1" height="19" fill="#ff4500" />
<rect x="694" y="196" width="3" height="16" fill="#ff4500" />
<rect x="699" y="214" width="1" height="21" fill="#ff4500" />
<rect x="698" y="221" width="3" height="3" fill="#ff4500" />
<rect x="703" y="220" width="1" height="31" fill="#32cd32" />
<rect x="702" y="223" width="3" height="27" fill="#32cd32" />
<rect x="707" y="242" width="1" height="26" fill="#32cd32" />
<rect x="706" y="249" width="3" height="3" fill="#32cd32" />
<rect x="711" y="231" width="1" height="24" fill="#ff4500" />
<rect x="710" y="235" width="3" height="18" fill="#ff4500" />
<rect x="715" y="238" width="1" height="32" fill="#32cd32" />
<rect x="714" y="238" width="3" height="31" fill="#32cd32" />
<rect x="719" y="257" width="1" height="25" fill="#32cd32" />
<rect x="718" y="268" width="3" height="9" fill="#32cd32" />
<rect x="723" y="251" width="1" height="27" fill="#ff4500" />
<rect x="722" y="255" width="3" height="22" fill="#ff4500" />
<rect x="727" y="247" width="1" height="20" fill="#ff4500" />
<rect x="726" y="251" width="3" height="4" fill="#ff4500" />
<rect x="731" y="235" width="1" height="29" fill="#32cd32" />
<rect x="730" y="243" width="3" height="10" fill="#32cd32" />
<rect x="735" y="232" width="1" height="30" fill="#ff4500" />
<rect x="734" y="232" width="3" height="21" fill="#ff4500" />
<rect x="739" y="219" width="1" height="60" fill="#32cd32" />
<rect x="738" y="232" width="3" height="41" fill="#32cd32" />
<rect x="743" y="265" width="1" height="21" fill="#32cd32" />
<rect x="742" y="272" width="3" height="9" fill="#32cd32" />
<rect x="747" y="243" width="1" height="29" fill="#32cd32" />
<rect x="746" y="246" width="3" height="16" fill="#32cd32" />
<rect x="751" y="241" width="1" height="28" fill="#ff4500" />
<rect x="750" y="246" width="3" height="16" fill="#ff4500" />
<rect x="755" y="243" width="1" height="35" fill="#32cd32" />
<rect x="754" y="246" width="3" height="17" fill="#32cd32" />
<rect x="759" y="263" width="1" height="25" fill="#32cd32" />
<rect x="758" y="264" width="3" height="15" fill="#32cd32" />
<rect x="763" y="297" width="1" height="16" fill="#32cd32" />
<rect x="762" y="297" width="3" height="5" fill="#32cd32" />
<rect x="767" y="294" width="1" height="26" fill="#32cd32" />
<rect x="766" y="302" width="3" height="16" fill="#32cd32" />
<rect x="771" y="302" width="1" height="16" fill="#ff4500" />
<rect x="770" y="312" width="3" height="5" fill="#ff4500" />
<rect x="775" y="308" width="1" height="15" fill="#32cd32" />
<rect x="774" y="312" width="3" height="10" fill="#32cd32" />
<rect x="779" y="302" width="1" height="27" fill="#ff4500" />
<rect x="778" y="309" width="3" height="11" fill="#ff4500" />
<rect x="783" y="290" width="1" height="24" fill="#ff4500" />
<rect x="782" y="297" width="3" height="13" fill="#ff4500" />
<rect x="787" y="288" width="1" height="17" fill="#32cd32" />
<rect x="786" y="297" width="3" height="3" fill="#32cd32" />
<rect x="791" y="280" width="1" height="20" fill="#ff4500" />
<rect x="790" y="287" width="3" height="11" fill="#ff4500" />
<rect x="795" y="295" width="1" height="30" fill="#ff4500" />
<rect x="794" y="301" width="3" height="23" fill="#ff4500" />
<rect x="799" y="276" width="1" height="37" fill="#ff4500" />
<rect x="798" y="278" width="3" height="24" fill="#ff4500" />
<rect x="803" y="243" width="1" height="34" fill="#ff4500" />
<rect x="802" y="246" width="3" height="31" fill="#ff4500" />
<rect x="807" y="234" width="1" height="26" fill="#32cd32" />
<rect x="806" y="247" width="3" height="11" fill="#32cd32" />
<rect x="811" y="255" width="1" height="21" fill="#32cd32" />
<rect x="810" y="260" width="3" height="13" fill="#32cd32" />
<rect x="815" y="262" width="1" height="19" fill="#ff4500" />
<rect x="814" y="262" width="3" height="11" fill="#ff4500" />
<rect x="819" y="260" width="1" height="27" fill="#32cd32" />
<rect x="818" y="262" width="3" height="23" fill="#32cd32" />
<rect x="823" y="284" width="1" height="15" fill="#32cd32" />
<rect x="822" y="284" width="3" height="5" fill="#32cd32" />
<rect x="827" y="265" width="1" height="26" fill="#ff4500" />
<rect x="826" y="265" width="3" height="19" fill="#ff4500" />
<rect x="831" y="257" width="1" height="27" fill="#32cd32" />
<rect x="830" y="265" width="3" height="1" fill="#32cd32" />
<rect x="835" y="250" width="1" height="21" fill="#ff4500" />
<rect x="834" y="258" width="3" height="8" fill="#ff4500" />
<rect x="839" y="246" width="1" height="20" fill="#ff4500" />
<rect x="838" y="249" width="3" height="10" fill="#ff4500" />
<rect x="843" y="238" width="1" height="29" fill="#32cd32" />
<rect x="842" y="247" width="3" height="19" fill="#32cd32" />
<rect x="847" y="216" width="1" height="53" fill="#ff4500" />
<rect x="846" y="216" width="3" height="50" fill="#ff4500" />
<rect x="851" y="207" width="1" height="24" fill="#ff4500" />
<rect x="850" y="212" width="3" height="5" fill="#ff4500" />
<rect x="855" y="211" width="1" height="30" fill="#32cd32" />
<rect x="854" y="211" width="3" height="28" fill="#32cd32" />
<rect x="859" y="208" width="1" height="36" fill="#32cd32" />
<rect x="858" y="217" width="3" height="14" fill="#32cd32" />
<rect x="863" y="214" width="1" height="23" fill="#32cd32" />
<rect x="862" y="216" width="3" height="7" fill="#32cd32" />
<rect x="867" y="211" width="1" height="17" fill="#ff4500" />
<rect x="866" y="221" width="3" height="2" fill="#ff4500" />
<rect x="871" y="204" width="1" height="19" fill="#ff4500" />
<rect x="870" y="204" width="3" height="18" fill="#ff4500" />
<rect x="875" y="218" width="1" height="37" fill="#32cd32" />
<rect x="874" y="222" width="3" height="33" fill="#32cd32" />
<rect x="879" y="246" width="1" height="27" fill="#32cd32" />
<rect x="878" y="253" width="3" height="18" fill="#32cd32" />
<rect x="883" y="262" width="1" height="12" fill="#ff4500" />
<rect x="882" y="270" width="3" height="2" fill="#ff4500" />
<rect x="887" y="269" width="1" height="14" fill="#ff4500" />
<rect x="886" y="270" width="3" height="2" fill="#ff4500" />
<rect x="891" y="266" width="1" height="36" fill="#ff4500" />
<rect x="890" y="282" width="3" height="20" fill="#ff4500" />
<rect x="895" y="262" width="1" height="25" fill="#ff4500" />
<rect x="894" y="269" width="3" height="14" fill="#ff4500" />
<rect x="899" y="260" width="1" height="21" fill="#32cd32" />
<rect x="898" y="268" width="3" height="6" fill="#32cd32" />
<rect x="903" y="268" width="1" height="11" fill="#32cd32" />
<rect x="902" y="271" width="3" height="2" fill="#32cd32" />
<rect x="907" y="261" width="1" height="32" fill="#32cd32" />
<rect x="906" y="262" width="3" height="28" fill="#32cd32" />
<rect x="911" y="280" width="1" height="23" fill="#32cd32" />
<rect x="910" y="289" width="3" height="13" fill="#32cd32" />
<rect x="915" y="278" width="1" height="24" fill="#ff4500" />
<rect x="914" y="278" width="3" height="24" fill="#ff4500" />
<rect x="919" y="270" width="1" height="14" fill="#32cd32" />
<rect x="918" y="278" width="3" height="4" fill="#32cd32" />
<rect x="923" y="284" width="1" height="36" fill="#32cd32" />
<rect x="922" y="287" width="3" height="32" fill="#32cd32" />
<rect x="927" y="312" width="1" height="20" fill="#32cd32" />
<rect x="926" y="316" width="3" height="11" fill="#32cd32" />
<rect x="931" y="324" width="1" height="30" fill="#32cd32" />
<rect x="930" y="326" width="3" height="27" fill="#32cd32" />
<rect x="935" y="329" width="1" height="25" fill="#ff4500" />
<rect x="934" y="350" width="3" height="3" fill="#ff4500" />
<rect x="939" y="325" width="1" height="27" fill="#ff4500" />
<rect x="938" y="331" width="3" height="12" fill="#ff4500" />
<rect x="943" y="328" width="1" height="26" fill="#32cd32" />
<rect x="942" y="331" width="3" height="4" fill="#32cd32" />
<rect x="947" y="331" width="1" height="19" fill="#32cd32" />
<rect x="946" y="336" width="3" height="13" fill="#32cd32" />
<rect x="951" y="342" width="1" height="24" fill="#32cd32" />
<rect x="950" y="349" width="3" height="6" fill="#32cd32" />
<rect x="955" y="333" width="1" height="21" fill="#ff4500" />
<rect x="954" y="336" width="3" height="10" fill="#ff4500" />
<rect x="959" y="336" width="1" height="17" fill="#32cd32" />
<rect x="958" y="337" width="3" height="4" fill="#32cd32" />
<rect x="963" y="339" width="1" height="24" fill="#32cd32" />
<rect x="962" y="341" width="3" height="19" fill="#32cd32" />
<rect x="967" y="357" width="1" height="15" fill="#ff4500" />
<rect x="966" y="357" width="3" height="3" fill="#ff4500" />
<rect x="971" y="347" width="1" height="19" fill="#ff4500" />
<rect x="970" y="352" width="3" height="5" fill="#ff4500" />
<rect x="975" y="312" width="1" height="42" fill="#ff4500" />
<rect x="974" y="313" width="3" height="40" fill="#ff4500" />
<rect x="979" y="312" width="1" height="16" fill="#32cd32" />
<rect x="978" y="315" width="3" height="2" fill="#32cd32" />
<rect x="983" y="311" width="1" height="16" fill="#32cd32" />
<rect x="982" y="316" width="3" height="3" fill="#32cd32" />
<rect x="987" y="295" width="1" height="20" fill="#32cd32" />
<rect x="986" y="299" width="3" height="15" fill="#32cd32" />
<rect x="991" y="309" width="1" height="11" fill="#ff4500" />
<rect x="990" y="311" width="3" height="3" fill="#ff4500" />
<rect x="995" y="310" width="1" height="26" fill="#32cd32" />
<rect x="994" y="310" width="3" height="24" fill="#32cd32" />
<rect x="999" y="333" width="1" height="23" fill="#32cd32" />
<rect x="998" y="333" width="3" height="17" fill="#32cd32" />
<rect x="1003" y="329" width="1" height="21" fill="#ff4500" />
<rect x="1002" y="339" width="3" height="11" fill="#ff4500" />
<rect x="1007" y="321" width="1" height="24" fill="#ff4500" />
<rect x="1006" y="334" width="3" height="6" fill="#ff4500" />
<rect x="1011" y="326" width="1" height="29" fill="#32cd32" />
<rect x="1010" y="334" width="3" height="3" fill="#32cd32" />
<rect x="1015" y="310" width="1" height="26" fill="#ff4500" />
<rect x="1014" y="321" width="3" height="15" fill="#ff4500" />
<rect x="1019" y="216" width="1" height="47" fill="#ff4500" />
<rect x="1018" y="219" width="3" height="15" fill="#ff4500" />
<rect x="1023" y="214" width="1" height="18" fill="#ff4500" />
<rect x="1022" y="218" width="3" height="2" fill="#ff4500" />
<rect x="1027" y="216" width="1" height="19" fill="#32cd32" />
<rect x="1026" y="218" width="3" height="11" fill="#32cd32" />
<rect x="1031" y="224" width="1" height="22" fill="#32cd32" />
<rect x="1030" y="226" width="3" height="13" fill="#32cd32" />
<rect x="1035" y="234" width="1" height="14" fill="#ff4500" />
<rect x="1034" y="240" width="3" height="6" fill="#ff4500" />
<rect x="1039" y="232" width="1" height="10" fill="#ff4500" />
<rect x="1038" y="234" width="3" height="6" fill="#ff4500" />
<rect x="1043" y="237" width="1" height="14" fill="#32cd32" />
<rect x="1042" y="237" width="3" height="10" fill="#32cd32" />
<rect x="1047" y="225" width="1" height="23" fill="#ff4500" />
<rect x="1046" y="229" width="3" height="17" fill="#ff4500" />
<rect x="1051" y="235" width="1" height="29" fill="#ff4500" />
<rect x="1050" y="237" width="3" height="27" fill="#ff4500" />
<rect x="1055" y="223" width="1" height="17" fill="#ff4500" />
<rect x="1054" y="225" width="3" height="14" fill="#ff4500" />
<rect x="1059" y="224" width="1" height="22" fill="#32cd32" />
<rect x="1058" y="225" width="3" height="21" fill="#32cd32" />
<rect x="1063" y="232" width="1" height="17" fill="#ff4500" />
<rect x="1062" y="243" width="3" height="3" fill="#ff4500" />
<rect x="1067" y="269" width="1" height="25" fill="#32cd32" />
<rect x="1066" y="273" width="3" height="13" fill="#32cd32" />
<rect x="1071" y="284" width="1" height="19" fill="#32cd32" />
<rect x="1070" y="284" width="3" height="12" fill="#32cd32" />
<rect x="1075" y="295" width="1" height="15" fill="#32cd32" />
<rect x="1074" y="295" width="3" height="11" fill="#32cd32" />
<rect x="1079" y="300" width="1" height="11" fill="#ff4500" />
<rect x="1078" y="301" width="3" height="5" fill="#ff4500" />
<rect x="1083" y="293" width="1" height="10" fill="#32cd32" />
<rect x="1082" y="295" width="3" height="6" fill="#32cd32" />
<rect x="1087" y="296" width="1" height="12" fill="#32cd32" />
<rect x="1086" y="298" width="3" height="3" fill="#32cd32" />
<rect x="1091" y="296" width="1" height="11" fill="#32cd32" />
<rect x="1090" y="301" width="3" height="4" fill="#32cd32" />
<rect x="1095" y="302" width="1" height="10" fill="#32cd32" />
<rect x="1094" y="303" width="3" height="8" fill="#32cd32" />
<rect x="1099" y="315" width="1" height="24" fill="#32cd32" />
<rect x="1098" y="328" width="3" height="9" fill="#32cd32" />
<rect x="1103" y="335" width="1" height="11" fill="#32cd32" />
<rect x="1102" y="337" width="3" height="3" fill="#32cd32" />
<rect x="1107" y="336" width="1" height="14" fill="#ff4500" />
<rect x="1106" y="337" width="3" height="3" fill="#ff4500" />
<rect x="1111" y="328" width="1" height="13" fill="#32cd32" />
<rect x="1110" y="337" width="3" height="2" fill="#32cd32" />
<rect x="1115" y="326" width="1" height="9" fill="#ff4500" />
<rect x="1114" y="332" width="3" height="3" fill="#ff4500" />
<rect x="1119" y="323" width="1" height="14" fill="#32cd32" />
<rect x="1118" y="332" width="3" height="2" fill="#32cd32" />
<rect x="1123" y="332" width="1" height="10" fill="#32cd32" />
<rect x="1122" y="332" width="3" height="9" fill="#32cd32" />
<rect x="1127" y="323" width="1" height="21" fill="#ff4500" />
<rect x="1126" y="324" width="3" height="17" fill="#ff4500" />
<rect x="1131" y="308" width="1" height="12" fill="#32cd32" />
<rect x="1130" y="310" width="3" height="8" fill="#32cd32" />
<rect x="1135" y="314" width="1" height="14" fill="#32cd32" />
<rect x="1134" y="317" width="3" height="7" fill="#32cd32" />
<rect x="1139" y="314" width="1" height="13" fill="#000000" />
<rect x="1138" y="324" width="3" height="1" fill="#000000" />
<rect x="1143" y="305" width="1" height="22" fill="#ff4500" />
<rect x="1142" y="317" width="3" height="9" fill="#ff4500" />
<rect x="1147" y="266" width="1" height="47" fill="#ff4500" />
<rect x="1146" y="266" width="3" height="42" fill="#ff4500" />
<rect x="1151" y="250" width="1" height="20" fill="#ff4500" />
<rect x="1150" y="254" width="3" height="13" fill="#ff4500" />
<rect x="1155" y="251" width="1" height="16" fill="#32cd32" />
<rect x="1154" y="254" width="3" height="11" fill="#32cd32" />
<rect x="1159" y="259" width="1" height="11" fill="#32cd32" />
<rect x="1158" y="264" width="3" height="5" fill="#32cd32" />
<rect x="1163" y="273" width="1" height="27" fill="#32cd32" />
<rect x="1162" y="275" width="3" height="23" fill="#32cd32" />
<rect x="1167" y="294" width="1" height="14" fill="#ff4500" />
<rect x="1166" y="297" width="3" height="2" fill="#ff4500" />
<rect x="1171" y="291" width="1" height="17" fill="#32cd32" />
<rect x="1170" y="297" width="3" height="8" fill="#32cd32" />
<rect x="1175" y="302" width="1" height="19" fill="#32cd32" />
<rect x="1174" y="303" width="3" height="17" fill="#32cd32" />
<rect x="1179" y="313" width="1" height="29" fill="#32cd32" />
<rect x="1178" y="325" width="3" height="11" fill="#32cd32" />
<rect x="1183" y="312" width="1" height="24" fill="#ff4500" />
<rect x="1182" y="322" width="3" height="14" fill="#ff4500" />
<rect x="1187" y="314" width="1" height="17" fill="#ff4500" />
<rect x="1186" y="319" width="3" height="5" fill="#ff4500" />
<rect x="1191" y="315" width="1" height="12" fill="#ff4500" />
<rect x="1190" y="319" width="3" height="1" fill="#ff4500" />
<rect x="1195" y="311" width="1" height="26" fill="#ff4500" />
<rect x="1194" y="332" width="3" height="3" fill="#ff4500" />
<rect x="1199" y="328" width="1" height="38" fill="#32cd32" />
<rect x="1198" y="332" width="3" height="28" fill="#32cd32" />
<rect x="1203" y="357" width="1" height="13" fill="#32cd32" />
<rect x="1202" y="359" width="3" height="9" fill="#32cd32" />
<rect x="1207" y="339" width="1" height="31" fill="#ff4500" />
<rect x="1206" y="357" width="3" height="11" fill="#ff4500" />
<rect x="1211" y="347" width="1" height="16" fill="#32cd32" />
<rect x="1210" y="352" width="3" height="11" fill="#32cd32" />
<rect x="1215" y="350" width="1" height="19" fill="#ff4500" />
<rect x="1214" y="358" width="3" height="4" fill="#ff4500" />
<rect x="1219" y="356" width="1" height="15" fill="#32cd32" />
<rect x="1218" y="358" width="3" height="9" fill="#32cd32" />
<rect x="1223" y="366" width="1" height="27" fill="#32cd32" />
<rect x="1222" y="366" width="3" height="26" fill="#32cd32" />
<rect x="1227" y="378" width="1" height="35" fill="#32cd32" />
<rect x="1226" y="389" width="3" height="19" fill="#32cd32" />
<rect x="1231" y="396" width="1" height="25" fill="#32cd32" />
<rect x="1230" y="407" width="3" height="11" fill="#32cd32" />
<rect x="1235" y="398" width="1" height="34" fill="#ff4500" />
<rect x="1234" y="405" width="3" height="13" fill="#ff4500" />
<rect x="1239" y="401" width="1" height="17" fill="#32cd32" />
<rect x="1238" y="405" width="3" height="2" fill="#32cd32" />
<rect x="1243" y="411" width="1" height="44" fill="#32cd32" />
<rect x="1242" y="411" width="3" height="37" fill="#32cd32" />
<rect x="1247" y="438" width="1" height="25" fill="#ff4500" />
<rect x="1246" y="446" width="3" height="2" fill="#ff4500" />
<rect x="1251" y="445" width="1" height="17" fill="#32cd32" />
<rect x="1250" y="446" width="3" height="11" fill="#32cd32" />
<rect x="1255" y="442" width="1" height="28" fill="#ff4500" />
<rect x="1254" y="443" width="3" height="13" fill="#ff4500" />
<rect x="1259" y="433" width="1" height="34" fill="#ff4500" />
<rect x="1258" y="441" width="3" height="15" fill="#ff4500" />
<rect x="1263" y="436" width="1" height="17" fill="#32cd32" />
<rect x="1262" y="440" width="3" height="2" fill="#32cd32" />
<rect x="1267" y="435" width="1" height="17" fill="#32cd32" />
<rect x="1266" y="441" width="3" height="10" fill="#32cd32" />
<rect x="1271" y="433" width="1" height="18" fill="#ff4500" />
<rect x="1270" y="440" width="3" height="10" fill="#ff4500" />
<rect x="1275" y="467" width="1" height="35" fill="#32cd32" />
<rect x="1274" y="467" width="3" height="33" fill="#32cd32" />
<rect x="1279" y="497" width="1" height="19" fill="#32cd32" />
<rect x="1278" y="499" width="3" height="12" fill="#32cd32" />
<rect x="1283" y="469" width="1" height="43" fill="#ff4500" />
<rect x="1282" y="473" width="3" height="39" fill="#ff4500" />
<rect x="1287" y="441" width="1" height="35" fill="#ff4500" />
<rect x="1286" y="457" width="3" height="16" fill="#ff4500" />
<rect x="1291" y="446" width="1" height="20" fill="#32cd32" />
<rect x="1290" y="457" width="3" height="6" fill="#32cd32" />
<rect x="1295" y="457" width="1" height="14" fill="#32cd32" />
<rect x="1294" y="462" width="3" height="4" fill="#32cd32" />
<rect x="1299" y="465" width="1" height="20" fill="#32cd32" />
<rect x="1298" y="465" width="3" height="11" fill="#32cd32" />
<rect x="1303" y="456" width="1" height="20" fill="#ff4500" />
<rect x="1302" y="468" width="3" height="8" fill="#ff4500" />
<rect x="1307" y="429" width="1" height="14" fill="#32cd32" />
<rect x="1306" y="434" width="3" height="5" fill="#32cd32" />
<rect x="7" y="111" width="1" height="14" fill="#ff4500" />
</g>
<g shape-rendering="crispEdges">
<rect x="7" y="547" width="1" height="10" fill="#c0c0c0" />
<rect x="11" y="546" width="1" height="11" fill="#c0c0c0" />
<rect x="15" y="545" width="1" height="12" fill="#c0c0c0" />
<rect x="19" y="544" width="1" height="13" fill="#c0c0c0" />
<rect x="23" y="544" width="1" height="13" fill="#c0c0c0" />
<rect x="27" y="544" width="1" height="13" fill="#c0c0c0" />
<rect x="31" y="544" width="1" height="13" fill="#c0c0c0" />
<rect x="35" y="545" width="1" height="12" fill="#c0c0c0" />
<rect x="39" y="546" width="1" height="11" fill="#c0c0c0" />
<rect x="43" y="547" width="1" height="10" fill="#c0c0c0" />
<rect x="47" y="548" width="1" height="9" fill="#c0c0c0" />
<rect x="51" y="550" width="1" height="7" fill="#c0c0c0" />
<rect x="55" y="552" width="1" height="5" fill="#c0c0c0" />
<rect x="59" y="554" width="1" height="3" fill="#c0c0c0" />
<rect x="63" y="555" width="1" height="2" fill="#c0c0c0" />
<rect x="67" y="557" width="1" height="1" fill="#c0c0c0" />
<rect x="71" y="557" width="1" height="1" fill="#c0c0c0" />
<rect x="75" y="557" width="1" height="2" fill="#c0c0c0" />
<rect x="79" y="557" width="1" height="4" fill="#c0c0c0" />
<rect x="83" y="557" width="1" height="5" fill="#c0c0c0" />
<rect x="87" y="557" width="1" height="6" fill="#c0c0c0" />
<rect x="91" y="557" width="1" height="6" fill="#c0c0c0" />
<rect x="95" y="557" width="1" height="5" fill="#c0c0c0" />
<rect x="99" y="557" width="1" height="5" fill="#c0c0c0" />
<rect x="103" y="557" width="1" height="5" fill="#c0c0c0" />
<rect x="107" y="557" width="1" height="4" fill="#c0c0c0" />
<rect x="111" y="557" width="1" height="4" fill="#c0c0c0" />
<rect x="115" y="557" width="1" height="4" fill="#c0c0c0" />
<rect x="119" y="557" width="1" height="4" fill="#c0c0c0" />
<rect x="123" y="557" width="1" height="5" fill="#c0c0c0" />
<rect x="127" y="557" width="1" height="5" fill="#c0c0c0" />
<rect x="131" y="557" width="1" height="6" fill="#c0c0c0" />
<rect x="135" y="557" width="1" height="7" fill="#c0c0c0" />
<rect x="139" y="557" width="1" height="8" fill="#c0c0c0" />
<rect x="143" y="557" width="1" height="9" fill="#c0c0c0" />
<rect x="147" y="557" width="1" height="10" fill="#c0c0c0" />
<rect x="151" y="557" width="1" height="10" fill="#c0c0c0" />
<rect x="155" y="557" width="1" height="11" fill="#c0c0c0" />
<rect x="159" y="557" width="1" height="11" fill="#c0c0c0" />
<rect x="163" y="557" width="1" height="12" fill="#c0c0c0" />
<rect x="167" y="557" width="1" height="12" fill="#c0c0c0" />
<rect x="171" y="557" width="1" height="12" fill="#c0c0c0" />
<rect x="175" y="557" width="1" height="13" fill="#c0c0c0" />
<rect x="179" y="557" width="1" height="13" fill="#c0c0c0" />
<rect x="183" y="557" width="1" height="14" fill="#c0c0c0" />
<rect x="187" y="557" width="1" height="14" fill="#c0c0c0" />
<rect x="191" y="557" width="1" height="14" fill="#c0c0c0" />
<rect x="195" y="557" width="1" height="14" fill="#c0c0c0" />
<rect x="199" y="557" width="1" height="14" fill="#c0c0c0" />
<rect x="203" y="557" width="1" height="14" fill="#c0c0c0" />
<rect x="207" y="557" width="1" height="14" fill="#c0c0c0" />
<rect x="211" y="557" width="1" height="14" fill="#c0c0c0" />
<rect x="215" y="557" width="1" height="13" fill="#c0c0c0" />
<rect x="219" y="557" width="1" height="13" fill="#c0c0c0" />
<rect x="223" y="557" width="1" height="12" fill="#c0c0c0" />
<rect x="227" y="557" width="1" height="11" fill="#c0c0c0" />
<rect x="231" y="557" width="1" height="11" fill="#c0c0c0" />
<rect x="235" y="557" width="1" height="10" fill="#c0c0c0" />
<rect x="239" y="557" width="1" height="10" fill="#c0c0c0" />
<rect x="243" y="557" width="1" height="9" fill="#c0c0c0" />
<rect x="247" y="557" width="1" height="9" fill="#c0c0c0" />
<rect x="251" y="557" width="1" height="8" fill="#c0c0c0" />
<rect x="255" y="557" width="1" height="7" fill="#c0c0c0" />
<rect x="259" y="557" width="1" height="6" fill="#c0c0c0" />
<rect x="263" y="557" width="1" height="4" fill="#c0c0c0" />
<rect x="267" y="557" width="1" height="3" fill="#c0c0c0" />
<rect x="271" y="557" width="1" height="1" fill="#c0c0c0" />
<rect x="275" y="555" width="1" height="2" fill="#c0c0c0" />
<rect x="279" y="552" width="1" height="5" fill="#c0c0c0" />
<rect x="283" y="549" width="1" height="8" fill="#c0c0c0" />
<rect x="287" y="548" width="1" height="9" fill="#c0c0c0" />
<rect x="291" y="548" width="1" height="9" fill="#c0c0c0" />
<rect x="295" y="547" width="1" height="10" fill="#c0c0c0" />
<rect x="299" y="546" width="1" height="11" fill="#c0c0c0" />
<rect x="303" y="544" width="1" height="13" fill="#c0c0c0" />
<rect x="307" y="542" width="1" height="15" fill="#c0c0c0" />
<rect x="311" y="540" width="1" height="17" fill="#c0c0c0" />
<rect x="315" y="538" width="1" height="19" fill="#c0c0c0" />
<rect x="319" y="537" width="1" height="20" fill="#c0c0c0" />
<rect x="323" y="537" width="1" height="20" fill="#c0c0c0" />
<rect x="327" y="537" width="1" height="20" fill="#c0c0c0" />
<rect x="331" y="536" width="1" height="21" fill="#c0c0c0" />
<rect x="335" y="535" width="1" height="22" fill="#c0c0c0" />
<rect x="339" y="535" width="1" height="22" fill="#c0c0c0" />
<rect x="343" y="535" width="1" height="22" fill="#c0c0c0" />
<rect x="347" y="536" width="1" height="21" fill="#c0c0c0" />
<rect x="351" y="536" width="1" height="21" fill="#c0c0c0" />
<rect x="355" y="537" width="1" height="20" fill="#c0c0c0" />
<rect x="359" y="538" width="1" height="19" fill="#c0c0c0" />
<rect x="363" y="539" width="1" height="18" fill="#c0c0c0" />
<rect x="367" y="539" width="1" height="18" fill="#c0c0c0" />
<rect x="371" y="539" width="1" height="18" fill="#c0c0c0" />
<rect x="375" y="539" width="1" height="18" fill="#c0c0c0" />
<rect x="379" y="542" width="1" height="15" fill="#c0c0c0" />
<rect x="383" y="547" width="1" height="10" fill="#c0c0c0" />
<rect x="387" y="551" width="1" height="6" fill="#c0c0c0" />
<rect x="391" y="555" width="1" height="2" fill="#c0c0c0" />
<rect x="395" y="557" width="1" height="1" fill="#c0c0c0" />
<rect x="399" y="557" width="1" height="3" fill="#c0c0c0" />
<rect x="403" y="557" width="1" height="6" fill="#c0c0c0" />
<rect x="407" y="557" width="1" height="7" fill="#c0c0c0" />
<rect x="411" y="557" width="1" height="9" fill="#c0c0c0" />
<rect x="415" y="557" width="1" height="10" fill="#c0c0c0" />
<rect x="419" y="557" width="1" height="10" fill="#c0c0c0" />
<rect x="423" y="557" width="1" height="11" fill="#c0c0c0" />
<rect x="427" y="557" width="1" height="15" fill="#c0c0c0" />
<rect x="431" y="557" width="1" height="19" fill="#c0c0c0" />
<rect x="435" y="557" width="1" height="23" fill="#c0c0c0" />
<rect x="439" y="557" width="1" height="27" fill="#c0c0c0" />
<rect x="443" y="557" width="1" height="30" fill="#c0c0c0" />
<rect x="447" y="557" width="1" height="30" fill="#c0c0c0" />
<rect x="451" y="557" width="1" height="30" fill="#c0c0c0" />
<rect x="455" y="557" width="1" height="28" fill="#c0c0c0" />
<rect x="459" y="557" width="1" height="28" fill="#c0c0c0" />
<rect x="463" y="557" width="1" height="27" fill="#c0c0c0" />
<rect x="467" y="557" width="1" height="27" fill="#c0c0c0" />
<rect x="471" y="557" width="1" height="26" fill="#c0c0c0" />
<rect x="475" y="557" width="1" height="25" fill="#c0c0c0" />
<rect x="479" y="557" width="1" height="25" fill="#c0c0c0" />
<rect x="483" y="557" width="1" height="24" fill="#c0c0c0" />
<rect x="487" y="557" width="1" height="24" fill="#c0c0c0" />
<rect x="491" y="557" width="1" height="24" fill="#c0c0c0" />
<rect x="495" y="557" width="1" height="23" fill="#c0c0c0" />
<rect x="499" y="557" width="1" height="23" fill="#c0c0c0" />
<rect x="503" y="557" width="1" height="23" fill="#c0c0c0" />
<rect x="507" y="557" width="1" height="23" fill="#c0c0c0" />
<rect x="511" y="557" width="1" height="22" fill="#c0c0c0" />
<rect x="515" y="557" width="1" height="22" fill="#c0c0c0" />
<rect x="519" y="557" width="1" height="22" fill="#c0c0c0" />
<rect x="523" y="557" width="1" height="22" fill="#c0c0c0" />
<rect x="527" y="557" width="1" height="21" fill="#c0c0c0" />
<rect x="531" y="557" width="1" height="20" fill="#c0c0c0" />
<rect x="535" y="557" width="1" height="17" fill="#c0c0c0" />
<rect x="539" y="557" width="1" height="10" fill="#c0c0c0" />
<rect x="543" y="557" width="1" height="4" fill="#c0c0c0" />
<rect x="547" y="555" width="1" height="2" fill="#c0c0c0" />
<rect x="551" y="550" width="1" height="7" fill="#c0c0c0" />
<rect x="555" y="548" width="1" height="9" fill="#c0c0c0" />
<rect x="559" y="548" width="1" height="9" fill="#c0c0c0" />
<rect x="563" y="548" width="1" height="9" fill="#c0c0c0" />
<rect x="567" y="550" width="1" height="7" fill="#c0c0c0" />
<rect x="571" y="550" width="1" height="7" fill="#c0c0c0" />
<rect x="575" y="551" width="1" height="6" fill="#c0c0c0" />
<rect x="579" y="550" width="1" height="7" fill="#c0c0c0" />
<rect x="583" y="551" width="1" height="6" fill="#c0c0c0" />
<rect x="587" y="554" width="1" height="3" fill="#c0c0c0" />
<rect x="591" y="556" width="1" height="1" fill="#c0c0c0" />
<rect x="595" y="556" width="1" height="1" fill="#c0c0c0" />
<rect x="599" y="557" width="1" height="1" fill="#c0c0c0" />
<rect x="603" y="557" width="1" height="1" fill="#c0c0c0" />
<rect x="607" y="557" width="1" height="1" fill="#c0c0c0" />
<rect x="611" y="557" width="1" height="2" fill="#c0c0c0" />
<rect x="615" y="557" width="1" height="2" fill="#c0c0c0" />
<rect x="619" y="557" width="1" height="4" fill="#c0c0c0" />
<rect x="623" y="557" width="1" height="6" fill="#c0c0c0" />
<rect x="627" y="557" width="1" height="8" fill="#c0c0c0" />
<rect x="631" y="557" width="1" height="10" fill="#c0c0c0" />
<rect x="635" y="557" width="1" height="12" fill="#c0c0c0" />
<rect x="639" y="557" width="1" height="12" fill="#c0c0c0" />
<rect x="643" y="557" width="1" height="11" fill="#c0c0c0" />
<rect x="647" y="557" width="1" height="10" fill="#c0c0c0" />
<rect x="651" y="557" width="1" height="10" fill="#c0c0c0" />
<rect x="655" y="557" width="1" height="8" fill="#c0c0c0" />
<rect x="659" y="557" width="1" height="6" fill="#c0c0c0" />
<rect x="663" y="557" width="1" height="4" fill="#c0c0c0" />
<rect x="667" y="557" width="1" height="1" fill="#c0c0c0" />
<rect x="671" y="556" width="1" height="1" fill="#c0c0c0" />
<rect x="675" y="555" width="1" height="2" fill="#c0c0c0" />
<rect x="679" y="554" width="1" height="3" fill="#c0c0c0" />
<rect x="683" y="552" width="1" height="5" fill="#c0c0c0" />
<rect x="687" y="549" width="1" height="8" fill="#c0c0c0" />
<rect x="691" y="547" width="1" height="10" fill="#c0c0c0" />
<rect x="695" y="544" width="1" height="13" fill="#c0c0c0" />
<rect x="699" y="542" width="1" height="15" fill="#c0c0c0" />
<rect x="703" y="542" width="1" height="15" fill="#c0c0c0" />
<rect x="707" y="542" width="1" height="15" fill="#c0c0c0" />
<rect x="711" y="543" width="1" height="14" fill="#c0c0c0" />
<rect x="715" y="544" width="1" height="13" fill="#c0c0c0" />
<rect x="719" y="545" width="1" height="12" fill="#c0c0c0" />
<rect x="723" y="546" width="1" height="11" fill="#c0c0c0" />
<rect x="727" y="546" width="1" height="11" fill="#c0c0c0" />
<rect x="731" y="547" width="1" height="10" fill="#c0c0c0" />
<rect x="735" y="548" width="1" height="9" fill="#c0c0c0" />
<rect x="739" y="549" width="1" height="8" fill="#c0c0c0" />
<rect x="743" y="550" width="1" height="7" fill="#c0c0c0" />
<rect x="747" y="550" width="1" height="7" fill="#c0c0c0" />
<rect x="751" y="551" width="1" height="6" fill="#c0c0c0" />
<rect x="755" y="552" width="1" height="5" fill="#c0c0c0" />
<rect x="759" y="554" width="1" height="3" fill="#c0c0c0" />
<rect x="763" y="556" width="1" height="1" fill="#c0c0c0" />
<rect x="767" y="557" width="1" height="1" fill="#c0c0c0" />
<rect x="771" y="557" width="1" height="2" fill="#c0c0c0" />
<rect x="775" y="557" width="1" height="3" fill="#c0c0c0" />
<rect x="779" y="557" width="1" height="4" fill="#c0c0c0" />
<rect x="783" y="557" width="1" height="4" fill="#c0c0c0" />
<rect x="787" y="557" width="1" height="4" fill="#c0c0c0" />
<rect x="791" y="557" width="1" height="4" fill="#c0c0c0" />
<rect x="795" y="557" width="1" height="3" fill="#c0c0c0" />
<rect x="799" y="557" width="1" height="2" fill="#c0c0c0" />
<rect x="803" y="557" width="1" height="1" fill="#c0c0c0" />
<rect x="807" y="557" width="1" height="1" fill="#c0c0c0" />
<rect x="811" y="557" width="1" height="1" fill="#c0c0c0" />
<rect x="815" y="556" width="1" height="1" fill="#c0c0c0" />
<rect x="819" y="556" width="1" height="1" fill="#c0c0c0" />
<rect x="823" y="556" width="1" height="1" fill="#c0c0c0" />
<rect x="827" y="556" width="1" height="1" fill="#c0c0c0" />
<rect x="831" y="556" width="1" height="1" fill="#c0c0c0" />
<rect x="835" y="556" width="1" height="1" fill="#c0c0c0" />
<rect x="839" y="555" width="1" height="2" fill="#c0c0c0" />
<rect x="843" y="555" width="1" height="2" fill="#c0c0c0" />
<rect x="847" y="553" width="1" height="4" fill="#c0c0c0" />
<rect x="851" y="552" width="1" height="5" fill="#c0c0c0" />
<rect x="855" y="551" width="1" height="6" fill="#c0c0c0" />
<rect x="859" y="550" width="1" height="7" fill="#c0c0c0" />
<rect x="863" y="549" width="1" height="8" fill="#c0c0c0" />
<rect x="867" y="549" width="1" height="8" fill="#c0c0c0" />
<rect x="871" y="548" width="1" height="9" fill="#c0c0c0" />
<rect x="875" y="549" width="1" height="8" fill="#c0c0c0" />
<rect x="879" y="551" width="1" height="6" fill="#c0c0c0" />
<rect x="883" y="553" width="1" height="4" fill="#c0c0c0" />
<rect x="887" y="555" width="1" height="2" fill="#c0c0c0" />
<rect x="891" y="556" width="1" height="1" fill="#c0c0c0" />
<rect x="895" y="557" width="1" height="1" fill="#c0c0c0" />
<rect x="899" y="557" width="1" height="1" fill="#c0c0c0" />
<rect x="903" y="557" width="1" height="2" fill="#c0c0c0" />
<rect x="907" y="557" width="1" height="2" fill="#c0c0c0" />
<rect x="911" y="557" width="1" height="4" fill="#c0c0c0" />
<rect x="915" y="557" width="1" height="4" fill="#c0c0c0" />
<rect x="919" y="557" width="1" height="5" fill="#c0c0c0" />
<rect x="923" y="557" width="1" height="6" fill="#c0c0c0" />
<rect x="927" y="557" width="1" height="7" fill="#c0c0c0" />
<rect x="931" y="557" width="1" height="10" fill="#c0c0c0" />
<rect x="935" y="557" width="1" height="11" fill="#c0c0c0" />
<rect x="939" y="557" width="1" height="11" fill="#c0c0c0" />
<rect x="943" y="557" width="1" height="12" fill="#c0c0c0" />
<rect x="947" y="557" width="1" height="12" fill="#c0c0c0" />
<rect x="951" y="557" width="1" height="13" fill="#c0c0c0" />
<rect x="955" y="557" width="1" height="13" fill="#c0c0c0" />
<rect x="959" y="557" width="1" height="13" fill="#c0c0c0" />
<rect x="963" y="557" width="1" height="13" fill="#c0c0c0" />
<rect x="967" y="557" width="1" height="13" fill="#c0c0c0" />
<rect x="971" y="557" width="1" height="13" fill="#c0c0c0" />
<rect x="975" y="557" width="1" height="12" fill="#c0c0c0" />
<rect x="979" y="557" width="1" height="10" fill="#c0c0c0" />
<rect x="983" y="557" width="1" height="8" fill="#c0c0c0" />
<rect x="987" y="557" width="1" height="6" fill="#c0c0c0" />
<rect x="991" y="557" width="1" height="6" fill="#c0c0c0" />
<rect x="995" y="557" width="1" height="6" fill="#c0c0c0" />
<rect x="999" y="557" width="1" height="6" fill="#c0c0c0" />
<rect x="1003" y="557" width="1" height="6" fill="#c0c0c0" />
<rect x="1007" y="557" width="1" height="6" fill="#c0c0c0" />
<rect x="1011" y="557" width="1" height="5" fill="#c0c0c0" />
<rect x="1015" y="557" width="1" height="4" fill="#c0c0c0" />
<rect x="1019" y="557" width="1" height="2" fill="#c0c0c0" />
<rect x="1023" y="553" width="1" height="4" fill="#c0c0c0" />
<rect x="1027" y="549" width="1" height="8" fill="#c0c0c0" />
<rect x="1031" y="548" width="1" height="9" fill="#c0c0c0" />
<rect x="1035" y="547" width="1" height="10" fill="#c0c0c0" />
<rect x="1039" y="547" width="1" height="10" fill="#c0c0c0" />
<rect x="1043" y="546" width="1" height="11" fill="#c0c0c0" />
<rect x="1047" y="545" width="1" height="12" fill="#c0c0c0" />
<rect x="1051" y="545" width="1" height="12" fill="#c0c0c0" />
<rect x="1055" y="545" width="1" height="12" fill="#c0c0c0" />
<rect x="1059" y="546" width="1" height="11" fill="#c0c0c0" />
<rect x="1063" y="547" width="1" height="10" fill="#c0c0c0" />
<rect x="1067" y="548" width="1" height="9" fill="#c0c0c0" />
<rect x="1071" y="551" width="1" height="6" fill="#c0c0c0" />
<rect x="1075" y="553" width="1" height="4" fill="#c0c0c0" />
<rect x="1079" y="556" width="1" height="1" fill="#c0c0c0" />
<rect x="1083" y="557" width="1" height="1" fill="#c0c0c0" />
<rect x="1087" y="557" width="1" height="2" fill="#c0c0c0" />
<rect x="1091" y="557" width="1" height="2" fill="#c0c0c0" />
<rect x="1095" y="557" width="1" height="3" fill="#c0c0c0" />
<rect x="1099" y="557" width="1" height="5" fill="#c0c0c0" />
<rect x="1103" y="557" width="1" height="7" fill="#c0c0c0" />
<rect x="1107" y="557" width="1" height="8" fill="#c0c0c0" />
<rect x="1111" y="557" width="1" height="9" fill="#c0c0c0" />
<rect x="1115" y="557" width="1" height="9" fill="#c0c0c0" />
<rect x="1119" y="557" width="1" height="9" fill="#c0c0c0" />
<rect x="1123" y="557" width="1" height="9" fill="#c0c0c0" />
<rect x="1127" y="557" width="1" height="8" fill="#c0c0c0" />
<rect x="1131" y="557" width="1" height="9" fill="#c0c0c0" />
<rect x="1135" y="557" width="1" height="8" fill="#c0c0c0" />
<rect x="1139" y="557" width="1" height="7" fill="#c0c0c0" />
<rect x="1143" y="557" width="1" height="6" fill="#c0c0c0" />
<rect x="1147" y="557" width="1" height="5" fill="#c0c0c0" />
<rect x="1151" y="557" width="1" height="3" fill="#c0c0c0" />
<rect x="1155" y="556" width="1" height="1" fill="#c0c0c0" />
<rect x="1159" y="555" width="1" height="2" fill="#c0c0c0" />
<rect x="1163" y="555" width="1" height="2" fill="#c0c0c0" />
<rect x="1167" y="556" width="1" height="1" fill="#c0c0c0" />
<rect x="1171" y="556" width="1" height="1" fill="#c0c0c0" />
<rect x="1175" y="556" width="1" height="1" fill="#c0c0c0" />
<rect x="1179" y="557" width="1" height="1" fill="#c0c0c0" />
<rect x="1183" y="557" width="1" height="1" fill="#c0c0c0" />
<rect x="1187" y="557" width="1" height="2" fill="#c0c0c0" />
<rect x="1191" y="557" width="1" height="3" fill="#c0c0c0" />
<rect x="1195" y="557" width="1" height="3" fill="#c0c0c0" />
<rect x="1199" y="557" width="1" height="5" fill="#c0c0c0" />
<rect x="1203" y="557" width="1" height="6" fill="#c0c0c0" />
<rect x="1207" y="557" width="1" height="8" fill="#c0c0c0" />
<rect x="1211" y="557" width="1" height="8" fill="#c0c0c0" />
<rect x="1215" y="557" width="1" height="9" fill="#c0c0c0" />
<rect x="1219" y="557" width="1" height="10" fill="#c0c0c0" />
<rect x="1223" y="557" width="1" height="11" fill="#c0c0c0" />
<rect x="1227" y="557" width="1" height="12" fill="#c0c0c0" />
<rect x="1231" y="557" width="1" height="14" fill="#c0c0c0" />
<rect x="1235" y="557" width="1" height="15" fill="#c0c0c0" />
<rect x="1239" y="557" width="1" height="16" fill="#c0c0c0" />
<rect x="1243" y="557" width="1" height="18" fill="#c0c0c0" />
<rect x="1247" y="557" width="1" height="19" fill="#c0c0c0" />
<rect x="1251" y="557" width="1" height="20" fill="#c0c0c0" />
<rect x="1255" y="557" width="1" height="21" fill="#c0c0c0" />
<rect x="1259" y="557" width="1" height="21" fill="#c0c0c0" />
<rect x="1263" y="557" width="1" height="20" fill="#c0c0c0" />
<rect x="1267" y="557" width="1" height="20" fill="#c0c0c0" />
<rect x="1271" y="557" width="1" height="20" fill="#c0c0c0" />
<rect x="1275" y="557" width="1" height="21" fill="#c0c0c0" />
<rect x="1279" y="557" width="1" height="22" fill="#c0c0c0" />
<rect x="1283" y="557" width="1" height="22" fill="#c0c0c0" />
<rect x="1287" y="557" width="1" height="21" fill="#c0c0c0" />
<rect x="1291" y="557" width="1" height="20" fill="#c0c0c0" />
<rect x="1295" y="557" width="1" height="18" fill="#c0c0c0" />
<rect x="1299" y="557" width="1" height="17" fill="#c0c0c0" />
<rect x="1303" y="557" width="1" height="16" fill="#c0c0c0" />
<rect x="1307" y="557" width="1" height="15" fill="#c0c0c0" />
</g>
<polyline points="7.0,553.6 20.1,548.5 32.2,546.1 44.3,545.7 56.4,546.5 68.5,550.2 80.6,554.2 88.6,557.8 100.7,559.8 116.8,560.2 130.9,560.6 141.0,562.6 153.1,564.7 165.2,566.3 177.2,568.3 189.3,569.7 201.4,570.5 213.5,570.5 225.6,569.3 237.7,567.3 249.7,565.9 261.8,564.7 271.9,562.2 282.0,557.8 292.0,553.2 302.1,548.5 314.2,543.7 326.3,540.1 332.0,538.5 338.1,536.1 346.1,535.3 362.2,535.7 378.3,536.7 386.4,540.5 394.5,544.5 402.5,549.8 410.6,555.2 416.6,559.2 422.6,562.2 430.7,565.9 438.8,570.7 446.8,575.9 454.9,580.8 462.9,583.4 471.0,585.4 479.0,584.8 487.1,584.0 495.2,583.2 503.2,582.0 511.3,581.4 519.3,580.4 527.4,579.6 535.4,578.4 543.5,575.3 549.5,570.7 555.6,565.3 561.6,560.2 567.7,554.6 573.7,551.2 579.7,549.1 585.8,548.5 591.8,550.6 599.9,552.2 607.9,553.6 616.0,555.6 624.1,558.2 632.1,560.6 640.2,563.2 648.2,565.3 656.3,566.3 662.0,566.3 668.1,564.7 676.1,561.8 684.2,557.8 692.2,553.8 700.3,549.1 708.3,546.1 716.4,543.7 724.5,543.3 732.5,543.7 740.6,545.7 748.6,547.1 756.7,548.5 764.7,549.8 772.8,552.6 780.8,555.2 788.9,558.2 797.0,559.8 805.0,560.2 813.1,559.2 821.1,558.2 829.2,557.0 837.2,556.2 845.3,555.2 853.4,553.8 861.4,552.2 869.5,550.6 877.5,549.3 885.6,549.3 893.6,551.2 901.7,553.2 909.7,554.8 917.8,557.8 925.9,559.2 933.9,561.2 942.0,564.3 950.0,566.3 958.1,568.3 966.1,569.5 974.2,569.5 982.3,569.3 990.3,567.9 992.0,567.3 998.1,566.3 1004.1,565.3 1010.1,563.6 1016.2,563.2 1022.2,560.6 1028.3,558.6 1034.3,555.8 1040.4,553.6 1046.4,550.6 1052.4,547.5 1058.5,546.1 1064.5,545.5 1070.6,546.1 1076.6,546.5 1082.6,548.5 1088.7,550.6 1094.7,552.8 1100.8,555.2 1106.8,557.8 1112.9,559.8 1118.9,562.6 1124.9,563.9 1131.0,564.7 1137.0,564.7 1143.1,564.7 1149.1,564.3 1155.2,562.2 1161.2,560.2 1166.2,558.2 1172.3,557.4 1178.3,556.6 1184.4,556.6 1190.4,556.8 1196.4,557.4 1202.5,558.8 1208.5,560.2 1214.6,561.8 1220.6,563.6 1226.7,564.9 1232.7,566.3 1238.7,568.3 1244.8,569.7 1250.8,571.1 1256.9,572.3 1262.9,574.3 1269.0,575.5 1275.0,576.7 1281.0,577.3 1287.1,577.3 1293.1,577.3 1299.2,577.1 1305.2,576.5" fill="none" stroke="#ff0000" stroke-width="1" stroke-dasharray="3,3" shape-rendering="crispEdges"/>
<polyline points="7.0,639.6 11.1,638.2 15.1,639.8 19.1,641.2 23.2,642.2 27.2,642.2 31.2,648.3 35.2,648.3 39.3,646.3 43.3,652.3 47.3,659.3 51.4,658.3 55.4,658.3 59.4,672.4 63.4,660.4 67.5,663.4 70.9,663.4 74.9,671.0 79.0,672.4 83.0,672.4 87.6,663.4 91.6,663.4 95.1,663.4 99.1,647.3 103.1,647.9 106.7,652.3 111.2,662.8 115.2,664.4 119.2,671.4 123.9,667.4 127.3,668.4 131.3,674.5 135.3,677.1 139.4,660.4 143.4,672.0 147.4,670.0 151.5,664.4 155.5,672.4 160.1,669.4 164.1,670.0 168.2,671.0 171.6,673.0 175.6,666.4 179.7,670.0 183.7,671.0 187.7,671.4 191.7,674.5 195.4,671.4 199.4,674.5 203.4,672.4 207.5,674.5 211.5,672.0 215.5,662.8 219.5,662.4 223.6,661.4 227.6,658.9 231.2,660.4 235.2,668.4 239.7,672.0 243.7,670.0 247.7,671.0 251.4,665.4 255.8,669.4 259.8,653.3 263.8,643.2 267.5,637.2 271.9,635.8 275.3,631.1 279.6,639.2 283.6,637.2 288.0,639.6 292.0,639.6 296.1,638.2 299.7,638.2 303.7,626.1 307.8,623.1 311.6,619.5 315.2,630.7 319.2,637.2 323.3,637.2 327.3,635.2 330.0,631.1 335.6,627.5 339.1,629.1 343.1,634.2 347.1,638.2 351.1,638.8 355.2,640.2 359.2,638.2 363.2,635.8 367.7,630.1 371.7,633.2 375.3,632.2 379.3,667.4 383.4,670.0 387.4,670.0 391.4,677.1 395.5,672.0 399.5,671.0 403.5,672.8 406.9,674.0 411.0,672.0 415.6,675.1 419.6,673.0 423.7,672.4 427.3,686.5 431.3,691.6 435.3,693.6 439.4,697.2 443.4,689.6 447.4,681.5 451.5,677.5 455.5,677.1 459.5,677.5 463.5,682.1 467.6,682.5 471.6,684.9 475.4,674.5 479.4,679.5 483.5,681.5 487.5,679.5 491.5,672.4 495.6,676.1 499.6,676.1 503.6,673.4 507.6,679.1 511.7,680.1 515.3,681.1 519.3,685.1 523.4,682.1 527.4,680.9 531.0,657.7 535.0,659.9 539.1,638.2 543.1,634.6 547.1,633.2 551.1,634.8 555.2,644.2 559.2,649.7 563.2,652.7 567.3,658.3 571.3,653.9 575.3,646.7 579.3,656.9 583.4,658.3 587.4,662.8 591.4,663.4 595.5,662.0 599.9,653.3 603.9,655.3 607.5,661.0 611.6,661.4 615.6,661.4 619.6,671.0 623.7,670.0 627.7,675.1 631.7,675.1 635.7,672.4 639.8,667.0 643.8,660.4 647.4,665.0 651.9,656.7 655.5,656.3 659.5,653.3 660.0,654.3 663.6,656.3 667.7,644.2 671.7,643.2 675.7,650.3 679.7,654.3 683.8,643.2 687.8,641.8 691.8,635.8 695.9,634.2 699.9,641.8 703.5,648.3 707.5,649.3 711.6,645.9 715.6,653.3 719.6,656.3 723.6,651.3 727.7,650.3 731.7,650.3 735.7,646.7 739.8,656.3 743.8,658.3 747.8,654.3 751.8,650.3 755.9,655.3 759.9,659.3 763.9,664.4 768.0,667.4 772.0,666.4 775.6,668.4 779.6,664.0 783.7,661.4 787.7,661.4 791.7,658.3 795.8,662.4 799.8,653.9 803.8,646.3 807.8,649.3 811.9,654.3 815.5,652.3 819.5,658.3 823.5,659.3 827.6,653.3 831.6,653.3 835.6,650.3 839.7,648.3 843.7,654.3 847.7,641.2 851.3,640.2 855.4,649.3 859.4,644.2 863.4,646.3 867.5,646.3 871.5,642.2 875.5,658.3 879.5,662.4 883.6,662.4 887.6,662.4 891.6,665.4 895.6,661.4 899.7,661.4 903.7,661.4 907.7,668.0 911.8,670.0 915.8,661.4 919.4,662.8 923.4,672.8 927.5,674.9 931.9,681.5 935.5,680.5 939.6,672.4 943.6,672.4 947.6,676.1 951.6,677.5 955.7,670.4 959.7,671.0 963.7,676.5 967.8,675.1 971.8,672.4 975.4,657.3 979.4,657.3 983.5,658.3 987.5,657.3 990.0,655.3 995.0,663.4 999.1,669.4 1003.1,665.4 1007.1,662.4 1011.1,663.4 1015.2,657.3 1019.2,630.5 1023.2,630.1 1027.3,633.8 1031.3,638.2 1035.3,639.2 1039.3,638.2 1043.4,642.2 1047.4,638.2 1051.4,642.2 1055.5,639.8 1059.5,647.3 1063.5,647.3 1067.5,661.4 1071.6,664.4 1075.6,667.4 1079.6,666.4 1083.7,665.0 1088.7,665.0 1093.7,667.4 1099.8,677.5 1103.8,677.5 1107.8,676.1 1111.9,677.5 1115.9,673.4 1119.9,673.4 1123.9,676.1 1128.0,666.4 1132.0,662.4 1136.0,665.4 1140.1,665.4 1144.1,659.3 1148.1,639.2 1152.1,636.6 1155.2,640.6 1159.6,643.2 1163.6,657.3 1167.6,657.3 1171.3,659.3 1175.3,665.4 1179.3,671.0 1183.4,665.4 1187.4,663.4 1191.4,663.4 1195.4,669.4 1199.5,676.5 1203.5,679.1 1207.5,674.5 1211.6,675.5 1215.6,673.4 1219.6,675.5 1223.6,683.5 1227.7,686.1 1231.7,688.1 1235.7,681.5 1239.7,681.5 1243.8,690.2 1247.8,690.6 1251.8,692.2 1255.9,684.5 1259.9,683.1 1263.9,683.1 1267.9,685.5 1271.6,679.5 1275.6,691.6 1279.6,694.2 1283.1,676.5 1287.1,670.4 1291.1,671.4 1295.1,672.4 1299.2,674.5 1303.2,671.4 1307.6,661.4" fill="none" stroke="#1e90ff" stroke-width="1" shape-rendering="crispEdges"/>
<text x="1640.3" y="543" font-size="12.5" fill="#000" >51</text>
<rect x="1637" y="557" width="1" height="1" fill="#000" />
<text x="1640.3" y="562" font-size="12.5" fill="#000" >0.00</text>
<text x="1640.3" y="587" font-size="12.5" fill="#000" >-63.44</text>
<rect x="1637" y="530" width="1" height="1" fill="#000" />
<rect x="1637" y="589" width="1" height="1" fill="#000" />
<rect x="1637" y="594" width="1" height="1" fill="#000" />
<text x="1640.3" y="606" font-size="12.5" fill="#000" >100</text>
<text x="1639.6" y="637" font-size="12.5" fill="#000" >70</text>
<text x="1639.6" y="687" font-size="12.5" fill="#000" >30</text>
<text x="1640.3" y="718" font-size="12.5" fill="#000" >0</text>
<rect x="1637" y="720" width="1" height="1" fill="#000" />
<line x1="7" y1="632.5" x2="1636" y2="632.5" stroke="#c0c0c0" stroke-width="1" stroke-dasharray="3,3" shape-rendering="crispEdges"/>
<line x1="7" y1="682.5" x2="1636" y2="682.5" stroke="#c0c0c0" stroke-width="1" stroke-dasharray="3,3" shape-rendering="crispEdges"/>
<path d="M10 45.5 L14.5 40 L19 45.5 Z" fill="#000"/>
<text x="25.3" y="47" font-size="12.5" fill="#000" textLength="77.6" lengthAdjust="spacingAndGlyphs" >CHINA300-,H1</text>
<text x="112" y="47" font-size="12.5" fill="#000" textLength="167.4" lengthAdjust="spacingAndGlyphs" >3042.4 3047.4 3033.2 3036.4</text>
<text x="11" y="545" font-size="12.5" fill="#000" textLength="83.7" lengthAdjust="spacingAndGlyphs" >MACD(12,26,9)</text>
<text x="100.7" y="545" font-size="12.5" fill="#000" textLength="75.3" lengthAdjust="spacingAndGlyphs" >-27.95 -36.72</text>
<text x="11" y="608" font-size="12.5" fill="#000" textLength="91" lengthAdjust="spacingAndGlyphs" >RSI(14) 47.6531</text>
<text x="1300.6" y="274.2" font-size="33" fill="#ff2000" textLength="240.5" lengthAdjust="spacingAndGlyphs" font-family='"Liberation Sans", "Noto Sans CJK SC", sans-serif' >多空转折点3058</text>
<path d="M1303 33 L1314 33 L1308.5 39 Z" fill="#b4b4b4"/>
<rect x="7" y="722" width="1" height="3" fill="#000" />
<text x="6.5" y="737" font-size="12.5" fill="#000" >27 Aug 2018</text>
<rect x="103" y="722" width="1" height="3" fill="#000" />
<text x="102.5" y="737" font-size="12.5" fill="#000" >4 Sep 06:00</text>
<rect x="199" y="722" width="1" height="3" fill="#000" />
<text x="198.5" y="737" font-size="12.5" fill="#000" >12 Sep 06:00</text>
<rect x="295" y="722" width="1" height="3" fill="#000" />
<text x="294.5" y="737" font-size="12.5" fill="#000" >20 Sep 06:00</text>
<rect x="391" y="722" width="1" height="3" fill="#000" />
<text x="390.5" y="737" font-size="12.5" fill="#000" >8 Oct 06:00</text>
<rect x="487" y="722" width="1" height="3" fill="#000" />
<text x="486.5" y="737" font-size="12.5" fill="#000" >16 Oct 06:00</text>
<rect x="583" y="722" width="1" height="3" fill="#000" />
<text x="582.5" y="737" font-size="12.5" fill="#000" >24 Oct 06:00</text>
<rect x="679" y="722" width="1" height="3" fill="#000" />
<text x="678.5" y="737" font-size="12.5" fill="#000" >1 Nov 06:00</text>
<rect x="775" y="722" width="1" height="3" fill="#000" />
<text x="774.5" y="737" font-size="12.5" fill="#000" >9 Nov 06:00</text>
<rect x="871" y="722" width="1" height="3" fill="#000" />
<text x="870.5" y="737" font-size="12.5" fill="#000" >19 Nov 06:00</text>
<rect x="967" y="722" width="1" height="3" fill="#000" />
<text x="966.5" y="737" font-size="12.5" fill="#000" >27 Nov 06:00</text>
<rect x="1063" y="722" width="1" height="3" fill="#000" />
<text x="1062.5" y="737" font-size="12.5" fill="#000" >5 Dec 06:00</text>
<rect x="1159" y="722" width="1" height="3" fill="#000" />
<text x="1158.5" y="737" font-size="12.5" fill="#000" >13 Dec 06:00</text>
<rect x="1255" y="722" width="1" height="3" fill="#000" />
<text x="1254.5" y="737" font-size="12.5" fill="#000" >21 Dec 06:00</text>
<line x1="2" y1="4.3" x2="19" y2="4.3" stroke="#6a6a6a" stroke-width="1.4" stroke-dasharray="1.3,1.2"/>
<line x1="2" y1="7.9" x2="19" y2="7.9" stroke="#6a6a6a" stroke-width="1.4" stroke-dasharray="1.3,1.2"/>
<line x1="2" y1="12.8" x2="19" y2="12.8" stroke="#6a6a6a" stroke-width="1.4" stroke-dasharray="1.3,1.2"/>
<line x1="2" y1="18.0" x2="14" y2="18.0" stroke="#6a6a6a" stroke-width="1.4" stroke-dasharray="1.3,1.2"/>
<text x="14.6" y="23.8" font-size="9.3" fill="#555" font-weight="bold" >F</text>
<text x="39.5" y="19" font-size="16.5" fill="#636363" textLength="11" lengthAdjust="spacingAndGlyphs" font-weight="bold" >A</text>
<rect x="72.5" y="4.7" width="14" height="15.6" fill="none" stroke="#555" stroke-width="1.2" stroke-dasharray="1.2,1.4"/>
<rect x="71" y="3.3" width="3" height="2.6" fill="#666"/>
<text x="74.3" y="18.4" font-size="14.5" fill="#6a6a6a" textLength="11" lengthAdjust="spacingAndGlyphs" font-weight="bold" >T</text>
<path d="M104.3 9 L109 4.2 L113.7 9 Z" fill="#555"/>
<rect x="107.3" y="8.8" width="3.4" height="1.6" fill="#555" />
<path d="M113.4 16.4 L122.6 16.4 L118 21.2 Z" fill="#555"/>
<rect x="116.3" y="15" width="3.4" height="1.6" fill="#555" />
<path d="M107 13.4 L110 16.4 L116 9.8" fill="none" stroke="#555" stroke-width="2"/>
<path d="M128 11.2 L135.3 11.2 L131.6 15.2 Z" fill="#111"/>
<rect x="143" y="0" width="1" height="28" fill="#a0a0a0" />
<rect x="144" y="0" width="1" height="28" fill="#fafafa" />
<rect x="147" y="1" width="3" height="1" fill="#9a9a9a" />
<rect x="147" y="3" width="3" height="1" fill="#9a9a9a" />
<rect x="147" y="5" width="3" height="1" fill="#9a9a9a" />
<rect x="147" y="7" width="3" height="1" fill="#9a9a9a" />
<rect x="147" y="9" width="3" height="1" fill="#9a9a9a" />
<rect x="147" y="11" width="3" height="1" fill="#9a9a9a" />
<rect x="147" y="13" width="3" height="1" fill="#9a9a9a" />
<rect x="147" y="15" width="3" height="1" fill="#9a9a9a" />
<rect x="147" y="17" width="3" height="1" fill="#9a9a9a" />
<rect x="147" y="19" width="3" height="1" fill="#9a9a9a" />
<rect x="147" y="21" width="3" height="1" fill="#9a9a9a" />
<rect x="147" y="23" width="3" height="1" fill="#9a9a9a" />
<rect x="147" y="25" width="3" height="1" fill="#9a9a9a" />
<rect x="289" y="0" width="31" height="27" fill="#f6f6f6" />
<rect x="289" y="0" width="1" height="27" fill="#a0a0a0" />
<text x="160.2" y="17.2" font-size="12.5" fill="#505050" textLength="16" lengthAdjust="spacingAndGlyphs" >M1</text>
<text x="194" y="17.2" font-size="12.5" fill="#505050" textLength="16" lengthAdjust="spacingAndGlyphs" >M5</text>
<text x="225.7" y="17.2" font-size="12.5" fill="#505050" textLength="22.4" lengthAdjust="spacingAndGlyphs" >M15</text>
<text x="259.5" y="17.2" font-size="12.5" fill="#505050" textLength="23" lengthAdjust="spacingAndGlyphs" >M30</text>
<text x="297.2" y="17.2" font-size="12.5" fill="#505050" textLength="15" lengthAdjust="spacingAndGlyphs" >H1</text>
<text x="330.4" y="17.2" font-size="12.5" fill="#505050" textLength="15.6" lengthAdjust="spacingAndGlyphs" >H4</text>
<text x="365.7" y="17.2" font-size="12.5" fill="#505050" textLength="14.5" lengthAdjust="spacingAndGlyphs" >D1</text>
<text x="398.8" y="17.2" font-size="12.5" fill="#505050" textLength="18" lengthAdjust="spacingAndGlyphs" >W1</text>
<text x="430.7" y="17.2" font-size="12.5" fill="#505050" textLength="19" lengthAdjust="spacingAndGlyphs" >MN</text>
<rect x="458" y="0" width="1" height="28" fill="#a0a0a0" />
<rect x="459" y="0" width="1" height="28" fill="#fafafa" />
<defs>
<linearGradient id="gTop" x1="0" y1="0" x2="0" y2="1"><stop offset="0" stop-color="#fd5252"/><stop offset="1" stop-color="#e43a3a"/></linearGradient>
<linearGradient id="gBot" x1="0" y1="0" x2="0" y2="1"><stop offset="0" stop-color="#de3232"/><stop offset="0.75" stop-color="#c01212"/><stop offset="1" stop-color="#ac0000"/></linearGradient>
<linearGradient id="gBtn" x1="0" y1="0" x2="0" y2="1"><stop offset="0" stop-color="#f4f4f4"/><stop offset="0.5" stop-color="#dcdcdc"/><stop offset="0.52" stop-color="#cfcfcf"/><stop offset="1" stop-color="#d4d4d4"/></linearGradient>
</defs>
<rect x="9" y="54" width="285" height="79" fill="#ffffff" />
<rect x="10" y="55" width="68" height="28" fill="url(#gTop)" />
<rect x="10" y="55" width="68" height="1" fill="#c81e1e" />
<rect x="10" y="55" width="1" height="28" fill="#cc2222" />
<rect x="77" y="55" width="1" height="27" fill="#d43434" />
<rect x="225.5" y="55" width="67.5" height="28" fill="url(#gTop)" />
<rect x="225.5" y="55" width="67.5" height="1" fill="#c81e1e" />
<rect x="225.5" y="55" width="1" height="27" fill="#cc2222" />
<rect x="292" y="55" width="1" height="28" fill="#c02020" />
<rect x="10" y="82" width="141" height="49" fill="url(#gBot)" />
<rect x="153" y="82" width="140" height="49" fill="url(#gBot)" />
<rect x="10" y="82" width="1" height="49" fill="#b81010" />
<rect x="150" y="82" width="1" height="49" fill="#a80808" />
<rect x="153" y="82" width="1" height="49" fill="#b81010" />
<rect x="292" y="82" width="1" height="49" fill="#a80808" />
<rect x="10" y="130" width="141" height="1" fill="#a00000" />
<rect x="153" y="130" width="140" height="1" fill="#a00000" />
<rect x="14" y="82" width="60" height="1" fill="#8a0808" />
<rect x="229" y="82" width="60" height="1" fill="#8a0808" />
<text x="27.6" y="74" font-size="15" fill="#ffe6e6" textLength="32.3" lengthAdjust="spacingAndGlyphs" >SELL</text>
<text x="244.6" y="74" font-size="15" fill="#ffe6e6" textLength="27.6" lengthAdjust="spacingAndGlyphs" >BUY</text>
<text x="40.6" y="120" font-size="15.6" fill="#fff" textLength="35.2" lengthAdjust="spacingAndGlyphs" font-weight="bold" >3034</text>
<text x="182.7" y="120" font-size="15.6" fill="#fff" textLength="34.2" lengthAdjust="spacingAndGlyphs" font-weight="bold" >3040</text>
<rect x="81.3" y="114.8" width="5.3" height="5.3" fill="#fff" rx="1.6"/>
<rect x="224.7" y="114.8" width="5.3" height="5.3" fill="#fff" rx="1.6"/>
<text x="89.3" y="120.2" font-size="42" fill="#fff" textLength="21.6" lengthAdjust="spacingAndGlyphs" >9</text>
<text x="233" y="120.2" font-size="42" fill="#fff" textLength="21.2" lengthAdjust="spacingAndGlyphs" >5</text>
<rect x="80.5" y="55.5" width="142" height="23" fill="#fff" stroke="#a9adb6" stroke-width="1"/>
<rect x="81" y="56" width="23" height="22" fill="url(#gBtn)" />
<rect x="199" y="56" width="23" height="22" fill="url(#gBtn)" />
<rect x="104" y="56" width="1" height="22" fill="#b4b8c0" />
<rect x="198" y="56" width="1" height="22" fill="#b4b8c0" />
<path d="M88.8 66 L96.2 66 L92.5 70.3 Z" fill="#4258b8"/>
<path d="M206.8 69.8 L214.2 69.8 L210.5 65.5 Z" fill="#4258b8"/>
<text x="194.6" y="72.7" font-size="15.2" fill="#000" text-anchor="end" textLength="30" lengthAdjust="spacingAndGlyphs" >1.00</text>
<rect x="0" y="745" width="1688" height="1" fill="#e2e2e2" />
<rect x="0" y="747" width="1688" height="1" fill="#101010" />
<rect x="0" y="748" width="1688" height="23" fill="#f0f0f0" />
<rect x="0" y="771" width="1688" height="2" fill="#ffffff" />
<rect x="0" y="773" width="1688" height="3" fill="#f3f3f3" />
<rect x="2" y="746" width="2" height="25" fill="#8c8c8c" />
<rect x="9" y="747" width="136" height="23" fill="#ffffff" />
<rect x="9" y="747" width="1" height="24" fill="#000" />
<rect x="144" y="747" width="1" height="24" fill="#000" />
<rect x="9" y="770" width="136" height="1" fill="#000" />
<rect x="0" y="747" width="9" height="1" fill="#101010" />
<text x="23.1" y="765" font-size="14.8" fill="#000" textLength="106" lengthAdjust="spacingAndGlyphs" >CHINA300-,H1</text>
<text x="157.8" y="765" font-size="14.8" fill="#6e6e6e" textLength="94.3" lengthAdjust="spacingAndGlyphs" >XAUUSD-,H4</text>
<text x="279.5" y="765" font-size="14.8" fill="#6e6e6e" textLength="71.3" lengthAdjust="spacingAndGlyphs" >UKOil-,H4</text>
<text x="379.2" y="765" font-size="14.8" fill="#6e6e6e" textLength="70.5" lengthAdjust="spacingAndGlyphs" >USOil-,H4</text>
<text x="479.5" y="765" font-size="14.8" fill="#6e6e6e" textLength="75.7" lengthAdjust="spacingAndGlyphs" >SP500-,H4</text>
<rect x="265" y="750" width="1" height="18" fill="#6a6a6a" />
<rect x="365" y="750" width="1" height="18" fill="#6a6a6a" />
<rect x="465" y="750" width="1" height="18" fill="#6a6a6a" />
<rect x="569" y="750" width="1" height="18" fill="#6a6a6a" />
<path d="M1655 754 L1655 762 L1650 758 Z" fill="#a6a6a6"/>
<path d="M1675 754 L1675 762 L1680 758 Z" fill="#a6a6a6"/>
</svg>
</body></html>
